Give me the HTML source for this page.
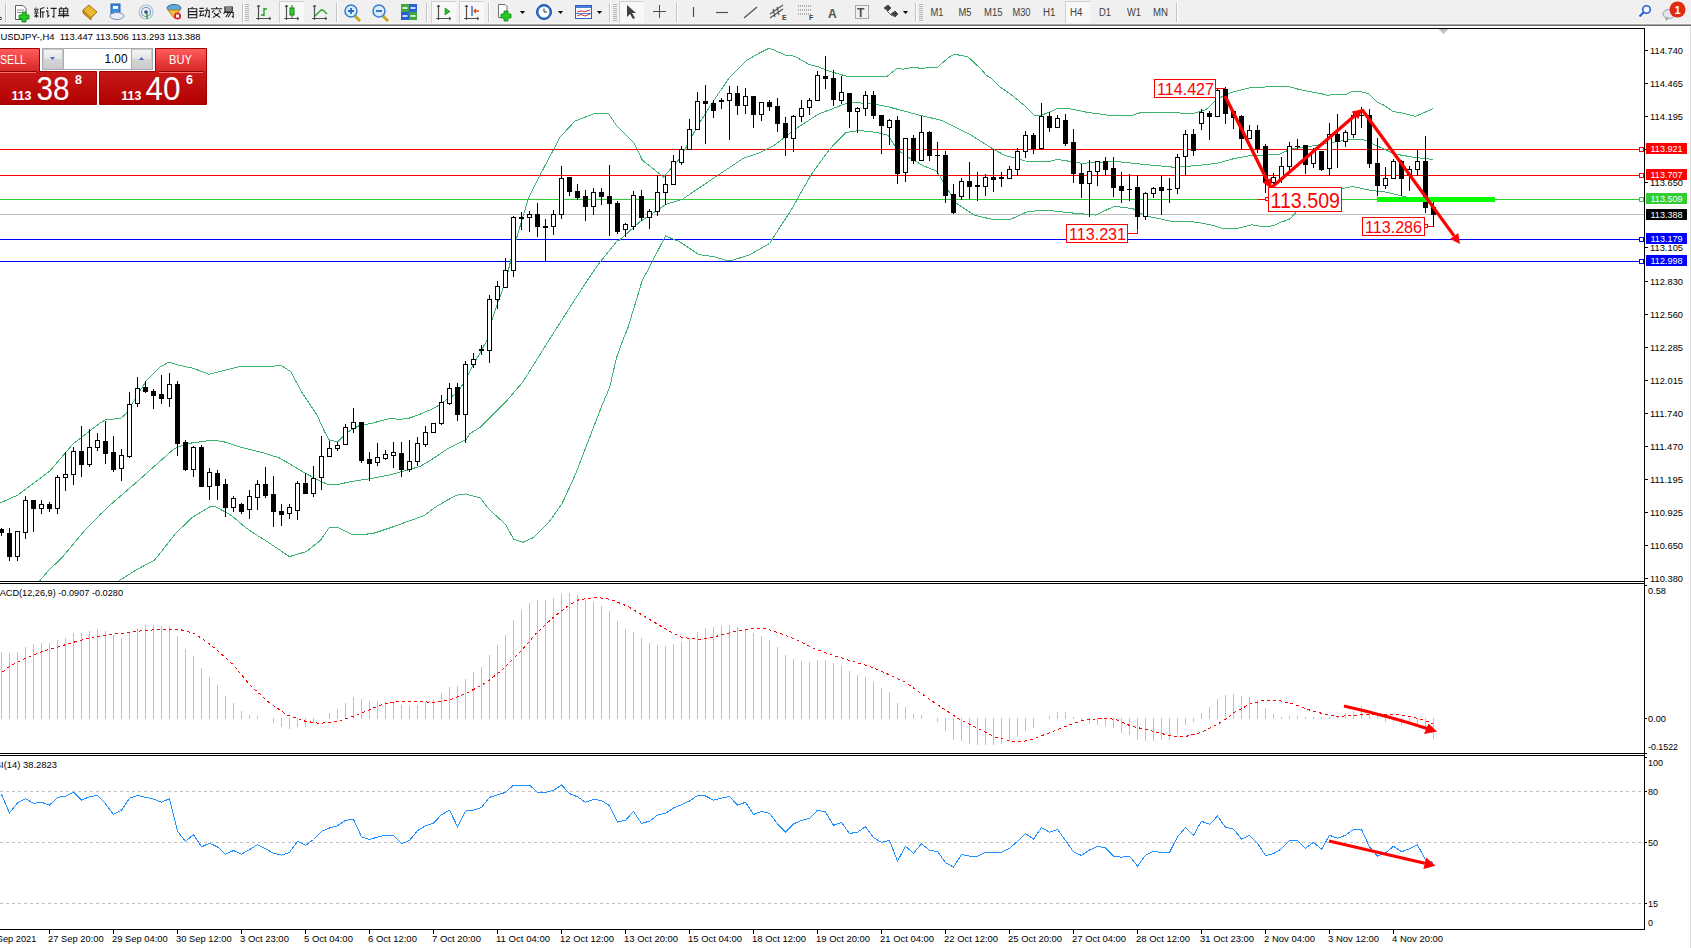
<!DOCTYPE html>
<html><head><meta charset="utf-8"><title>USDJPY H4</title>
<style>html,body{margin:0;padding:0;background:#fff;overflow:hidden;width:1691px;height:948px}svg{display:block}text{font-family:"Liberation Sans",sans-serif}</style>
</head><body>
<svg width="1691" height="948" viewBox="0 0 1691 948" shape-rendering="crispEdges" font-family="&quot;Liberation Sans&quot;, sans-serif">
<rect x="0" y="0" width="1691" height="948" fill="#ffffff"/>
<rect x="0" y="0" width="1691" height="24" fill="#f0f0f0"/>
<rect x="0" y="23" width="1691" height="1" fill="#f6f6f6"/>
<rect x="0" y="24" width="1691" height="1" fill="#a8a8a8"/>
<rect x="0" y="25" width="1691" height="1" fill="#6a6a6a"/>
<rect x="1690" y="26" width="1" height="922" fill="#dcdcdc"/>
<defs><clipPath id="cm"><rect x="0" y="29" width="1644" height="552"/></clipPath><clipPath id="cmacd"><rect x="0" y="584" width="1644" height="169"/></clipPath><clipPath id="crsi"><rect x="0" y="756" width="1644" height="173"/></clipPath><linearGradient id="gred" x1="0" y1="0" x2="0" y2="1"><stop offset="0" stop-color="#ff5c5c"/><stop offset="1" stop-color="#d82626"/></linearGradient><linearGradient id="gred2" x1="0" y1="0" x2="0" y2="1"><stop offset="0" stop-color="#dc2a2a"/><stop offset="1" stop-color="#b00000"/></linearGradient><linearGradient id="gbtn" x1="0" y1="0" x2="0" y2="1"><stop offset="0" stop-color="#f4f4f4"/><stop offset="0.5" stop-color="#e4e4e4"/><stop offset="0.51" stop-color="#d4d4d4"/><stop offset="1" stop-color="#cccccc"/></linearGradient></defs>
<g clip-path="url(#cm)">
<rect x="0" y="149" width="1644" height="1" fill="#ff0000"/>
<rect x="0" y="175" width="1644" height="1" fill="#ff0000"/>
<rect x="0" y="199" width="1644" height="1" fill="#32cd32"/>
<rect x="0" y="214" width="1644" height="1" fill="#c0c0c0"/>
<rect x="0" y="239" width="1644" height="1" fill="#0000ff"/>
<rect x="0" y="261" width="1644" height="1" fill="#0000ff"/>
<polyline points="0.0,503.0 17.9,495.0 50.0,470.8 73.0,444.0 100.0,423.0 105.4,420.0 120.7,418.2 126.0,413.8 145.8,381.5 160.0,367.2 169.0,362.0 176.0,364.5 192.0,368.0 208.9,374.2 218.4,371.8 239.3,366.6 269.6,366.6 281.0,365.3 290.5,371.4 301.9,392.3 317.1,415.1 324.7,432.1 329.4,440.1 336.8,441.6 338.0,441.6 344.4,434.9 352.0,429.2 359.6,425.4 371.0,423.5 390.0,418.4 399.5,419.4 408.9,418.2 418.4,415.0 435.5,407.4 445.0,400.8 458.3,392.2 487.1,340.0 492.0,319.5 505.9,280.0 515.1,242.9 528.5,198.1 541.2,172.8 560.2,137.0 574.9,121.1 593.9,113.8 608.7,113.8 617.1,126.4 634.0,143.3 642.4,160.2 663.5,177.0 680.4,158.0 697.3,126.4 712.0,103.2 729.1,77.9 746.5,60.4 760.0,52.8 769.3,48.1 785.5,55.1 794.8,56.3 808.8,64.4 818.0,66.7 829.7,71.3 845.9,76.0 866.8,76.0 887.7,76.0 897.0,68.3 900.0,68.4 902.6,69.3 907.2,68.4 911.8,67.4 917.7,67.4 919.0,68.4 924.9,68.4 925.5,67.4 937.6,67.4 941.9,63.3 947.7,58.4 951.7,55.5 953.6,54.5 957.6,54.5 958.9,55.3 963.4,55.3 964.7,56.3 968.0,56.8 981.1,69.2 986.3,75.4 991.6,78.4 1000.0,86.9 1011.4,94.8 1025.4,106.4 1034.7,115.7 1040.0,115.7 1049.3,112.2 1057.4,108.3 1070.2,108.8 1086.4,112.2 1112.0,115.7 1130.5,115.7 1139.8,112.9 1170.0,112.2 1191.8,113.9 1205.7,109.9 1217.3,99.0 1231.3,92.5 1249.8,87.9 1270.7,86.7 1289.3,86.7 1300.0,89.7 1308.6,91.3 1320.0,93.5 1324.4,94.4 1328.2,95.6 1332.7,94.4 1346.6,94.4 1352.3,91.3 1358.0,91.3 1364.3,92.5 1369.4,94.1 1377.0,102.0 1384.6,105.5 1392.8,111.5 1400.0,112.5 1415.4,116.4 1432.8,108.8" fill="none" stroke="#3cb371" stroke-width="1" />
<polyline points="39.7,580.7 49.0,570.0 62.0,557.7 85.0,530.0 100.0,514.7 110.0,505.0 133.0,485.4 153.0,467.5 171.0,451.4 176.0,447.8 188.0,443.5 210.8,440.3 222.2,441.3 241.2,447.3 263.9,453.0 279.1,457.8 290.5,464.4 305.7,473.5 319.0,480.6 328.5,484.7 338.0,484.4 352.0,481.4 371.0,478.6 390.0,474.8 408.9,469.7 420.3,466.3 431.7,459.6 446.9,449.2 458.3,443.5 465.9,439.7 470.0,433.6 480.5,427.0 506.9,400.6 522.7,382.2 549.1,340.0 575.5,298.6 587.6,280.0 598.7,263.8 617.3,240.6 619.2,240.3 640.3,221.4 665.7,204.5 682.5,199.2 712.0,179.2 743.7,158.0 760.0,152.6 773.9,145.6 794.8,129.4 818.0,114.3 848.2,102.7 869.1,103.2 885.4,106.2 900.0,109.9 918.6,115.0 941.8,120.4 969.7,134.3 992.9,148.9 1004.5,155.2 1025.4,161.0 1049.3,161.5 1057.4,159.4 1081.8,163.3 1116.6,161.5 1144.5,164.5 1174.7,167.3 1196.4,165.6 1217.3,163.3 1233.6,158.7 1249.8,155.7 1266.1,155.2 1280.0,154.0 1290.0,149.4 1299.3,147.8 1313.2,145.9 1332.0,142.5 1339.0,141.3 1351.6,139.4 1362.4,139.4 1367.5,141.3 1373.8,144.4 1382.7,148.5 1394.5,154.0 1415.4,157.5 1432.8,159.4" fill="none" stroke="#3cb371" stroke-width="1" />
<polyline points="119.2,580.7 136.2,569.9 154.7,560.0 176.0,533.0 192.0,517.7 195.6,515.3 210.8,506.2 216.5,507.1 231.7,515.7 245.0,527.1 254.5,533.7 263.9,539.4 289.5,556.6 306.6,551.5 320.7,540.1 329.3,527.3 337.8,527.3 352.0,534.4 371.8,533.9 391.7,527.3 424.1,515.6 435.5,507.1 446.9,500.4 456.4,495.3 465.9,493.8 470.0,495.5 475.4,496.3 480.5,498.1 488.5,508.7 505.6,524.5 513.5,539.0 522.7,542.4 533.3,537.7 549.1,521.9 562.2,503.4 575.4,474.4 588.6,440.2 601.8,405.9 609.7,387.4 616.3,358.5 622.9,340.0 628.0,327.6 642.4,280.0 647.9,270.1 665.5,235.9 680.0,242.0 699.2,254.7 712.5,256.4 729.0,261.1 749.0,255.2 769.5,243.5 779.6,227.7 790.2,211.8 811.1,174.7 829.7,149.1 845.9,132.4 859.8,130.5 876.1,132.4 887.7,135.2 897.0,149.1 905.0,155.5 923.2,165.6 937.1,171.4 955.7,202.8 974.3,215.1 992.9,219.5 1011.4,219.0 1026.5,212.1 1039.3,210.5 1049.3,210.5 1070.2,212.8 1095.7,215.1 1114.3,206.3 1132.9,208.6 1144.5,215.6 1170.0,221.0 1196.4,222.1 1212.7,225.3 1224.3,229.0 1238.2,228.3 1252.2,224.8 1262.2,226.5 1268.9,226.5 1274.8,225.0 1279.9,222.4 1285.8,220.6 1290.3,218.7 1292.5,216.2 1296.2,212.1 1342.0,188.5 1352.7,186.5 1371.3,190.5 1387.5,192.3 1406.1,197.0 1424.7,201.2 1432.8,203.9" fill="none" stroke="#3cb371" stroke-width="1" />
<rect x="1" y="528" width="1" height="8" fill="#000"/>
<rect x="-1" y="529" width="5" height="4" fill="#000"/>
<rect x="9" y="528" width="1" height="33" fill="#000"/>
<rect x="7" y="533" width="5" height="24" fill="#000"/>
<rect x="17" y="531" width="1" height="30" fill="#000"/>
<rect x="15" y="531" width="5" height="26" fill="#000"/>
<rect x="16" y="532" width="3" height="24" fill="#fff"/>
<rect x="25" y="496" width="1" height="43" fill="#000"/>
<rect x="23" y="500" width="5" height="33" fill="#000"/>
<rect x="24" y="501" width="3" height="31" fill="#fff"/>
<rect x="33" y="500" width="1" height="32" fill="#000"/>
<rect x="31" y="500" width="5" height="9" fill="#000"/>
<rect x="41" y="500" width="1" height="14" fill="#000"/>
<rect x="39" y="504" width="5" height="5" fill="#000"/>
<rect x="40" y="505" width="3" height="3" fill="#fff"/>
<rect x="49" y="502" width="1" height="10" fill="#000"/>
<rect x="47" y="504" width="5" height="5" fill="#000"/>
<rect x="57" y="475" width="1" height="39" fill="#000"/>
<rect x="55" y="477" width="5" height="32" fill="#000"/>
<rect x="56" y="478" width="3" height="30" fill="#fff"/>
<rect x="65" y="452" width="1" height="39" fill="#000"/>
<rect x="63" y="474" width="5" height="4" fill="#000"/>
<rect x="64" y="475" width="3" height="2" fill="#fff"/>
<rect x="73" y="447" width="1" height="38" fill="#000"/>
<rect x="71" y="451" width="5" height="24" fill="#000"/>
<rect x="72" y="452" width="3" height="22" fill="#fff"/>
<rect x="81" y="426" width="1" height="51" fill="#000"/>
<rect x="79" y="451" width="5" height="14" fill="#000"/>
<rect x="89" y="429" width="1" height="38" fill="#000"/>
<rect x="87" y="447" width="5" height="18" fill="#000"/>
<rect x="88" y="448" width="3" height="16" fill="#fff"/>
<rect x="97" y="433" width="1" height="18" fill="#000"/>
<rect x="95" y="440" width="5" height="8" fill="#000"/>
<rect x="96" y="441" width="3" height="6" fill="#fff"/>
<rect x="105" y="421" width="1" height="43" fill="#000"/>
<rect x="103" y="441" width="5" height="13" fill="#000"/>
<rect x="113" y="436" width="1" height="36" fill="#000"/>
<rect x="111" y="452" width="5" height="18" fill="#000"/>
<rect x="121" y="449" width="1" height="32" fill="#000"/>
<rect x="119" y="455" width="5" height="14" fill="#000"/>
<rect x="120" y="456" width="3" height="12" fill="#fff"/>
<rect x="129" y="392" width="1" height="66" fill="#000"/>
<rect x="127" y="404" width="5" height="53" fill="#000"/>
<rect x="128" y="405" width="3" height="51" fill="#fff"/>
<rect x="137" y="377" width="1" height="30" fill="#000"/>
<rect x="135" y="388" width="5" height="16" fill="#000"/>
<rect x="136" y="389" width="3" height="14" fill="#fff"/>
<rect x="145" y="381" width="1" height="12" fill="#000"/>
<rect x="143" y="387" width="5" height="5" fill="#000"/>
<rect x="153" y="389" width="1" height="20" fill="#000"/>
<rect x="151" y="391" width="5" height="5" fill="#000"/>
<rect x="161" y="375" width="1" height="29" fill="#000"/>
<rect x="159" y="394" width="5" height="5" fill="#000"/>
<rect x="169" y="373" width="1" height="34" fill="#000"/>
<rect x="167" y="384" width="5" height="15" fill="#000"/>
<rect x="168" y="385" width="3" height="13" fill="#fff"/>
<rect x="177" y="381" width="1" height="75" fill="#000"/>
<rect x="175" y="384" width="5" height="60" fill="#000"/>
<rect x="185" y="440" width="1" height="31" fill="#000"/>
<rect x="183" y="442" width="5" height="28" fill="#000"/>
<rect x="193" y="446" width="1" height="31" fill="#000"/>
<rect x="191" y="447" width="5" height="23" fill="#000"/>
<rect x="192" y="448" width="3" height="21" fill="#fff"/>
<rect x="201" y="445" width="1" height="42" fill="#000"/>
<rect x="199" y="447" width="5" height="40" fill="#000"/>
<rect x="209" y="468" width="1" height="32" fill="#000"/>
<rect x="207" y="472" width="5" height="15" fill="#000"/>
<rect x="208" y="473" width="3" height="13" fill="#fff"/>
<rect x="217" y="470" width="1" height="30" fill="#000"/>
<rect x="215" y="473" width="5" height="13" fill="#000"/>
<rect x="225" y="479" width="1" height="38" fill="#000"/>
<rect x="223" y="484" width="5" height="24" fill="#000"/>
<rect x="233" y="496" width="1" height="16" fill="#000"/>
<rect x="231" y="498" width="5" height="10" fill="#000"/>
<rect x="232" y="499" width="3" height="8" fill="#fff"/>
<rect x="241" y="503" width="1" height="11" fill="#000"/>
<rect x="239" y="504" width="5" height="8" fill="#000"/>
<rect x="249" y="490" width="1" height="29" fill="#000"/>
<rect x="247" y="496" width="5" height="14" fill="#000"/>
<rect x="248" y="497" width="3" height="12" fill="#fff"/>
<rect x="257" y="480" width="1" height="30" fill="#000"/>
<rect x="255" y="484" width="5" height="14" fill="#000"/>
<rect x="256" y="485" width="3" height="12" fill="#fff"/>
<rect x="265" y="467" width="1" height="31" fill="#000"/>
<rect x="263" y="484" width="5" height="12" fill="#000"/>
<rect x="273" y="476" width="1" height="51" fill="#000"/>
<rect x="271" y="494" width="5" height="18" fill="#000"/>
<rect x="281" y="504" width="1" height="22" fill="#000"/>
<rect x="279" y="511" width="5" height="4" fill="#000"/>
<rect x="289" y="504" width="1" height="15" fill="#000"/>
<rect x="287" y="507" width="5" height="7" fill="#000"/>
<rect x="288" y="508" width="3" height="5" fill="#fff"/>
<rect x="297" y="481" width="1" height="39" fill="#000"/>
<rect x="295" y="483" width="5" height="28" fill="#000"/>
<rect x="296" y="484" width="3" height="26" fill="#fff"/>
<rect x="305" y="473" width="1" height="21" fill="#000"/>
<rect x="303" y="483" width="5" height="11" fill="#000"/>
<rect x="313" y="466" width="1" height="31" fill="#000"/>
<rect x="311" y="478" width="5" height="16" fill="#000"/>
<rect x="312" y="479" width="3" height="14" fill="#fff"/>
<rect x="321" y="436" width="1" height="54" fill="#000"/>
<rect x="319" y="456" width="5" height="22" fill="#000"/>
<rect x="320" y="457" width="3" height="20" fill="#fff"/>
<rect x="329" y="441" width="1" height="16" fill="#000"/>
<rect x="327" y="448" width="5" height="9" fill="#000"/>
<rect x="328" y="449" width="3" height="7" fill="#fff"/>
<rect x="337" y="442" width="1" height="9" fill="#000"/>
<rect x="335" y="445" width="5" height="4" fill="#000"/>
<rect x="336" y="446" width="3" height="2" fill="#fff"/>
<rect x="345" y="424" width="1" height="21" fill="#000"/>
<rect x="343" y="427" width="5" height="18" fill="#000"/>
<rect x="344" y="428" width="3" height="16" fill="#fff"/>
<rect x="353" y="408" width="1" height="25" fill="#000"/>
<rect x="351" y="422" width="5" height="7" fill="#000"/>
<rect x="352" y="423" width="3" height="5" fill="#fff"/>
<rect x="361" y="422" width="1" height="41" fill="#000"/>
<rect x="359" y="422" width="5" height="39" fill="#000"/>
<rect x="369" y="452" width="1" height="29" fill="#000"/>
<rect x="367" y="459" width="5" height="5" fill="#000"/>
<rect x="377" y="443" width="1" height="23" fill="#000"/>
<rect x="375" y="457" width="5" height="6" fill="#000"/>
<rect x="376" y="458" width="3" height="4" fill="#fff"/>
<rect x="385" y="450" width="1" height="10" fill="#000"/>
<rect x="383" y="454" width="5" height="5" fill="#000"/>
<rect x="384" y="455" width="3" height="3" fill="#fff"/>
<rect x="393" y="442" width="1" height="26" fill="#000"/>
<rect x="391" y="452" width="5" height="4" fill="#000"/>
<rect x="392" y="453" width="3" height="2" fill="#fff"/>
<rect x="401" y="442" width="1" height="35" fill="#000"/>
<rect x="399" y="453" width="5" height="17" fill="#000"/>
<rect x="409" y="440" width="1" height="32" fill="#000"/>
<rect x="407" y="461" width="5" height="9" fill="#000"/>
<rect x="408" y="462" width="3" height="7" fill="#fff"/>
<rect x="417" y="437" width="1" height="29" fill="#000"/>
<rect x="415" y="443" width="5" height="19" fill="#000"/>
<rect x="416" y="444" width="3" height="17" fill="#fff"/>
<rect x="425" y="426" width="1" height="21" fill="#000"/>
<rect x="423" y="432" width="5" height="13" fill="#000"/>
<rect x="424" y="433" width="3" height="11" fill="#fff"/>
<rect x="433" y="423" width="1" height="10" fill="#000"/>
<rect x="431" y="423" width="5" height="10" fill="#000"/>
<rect x="432" y="424" width="3" height="8" fill="#fff"/>
<rect x="441" y="395" width="1" height="30" fill="#000"/>
<rect x="439" y="402" width="5" height="22" fill="#000"/>
<rect x="440" y="403" width="3" height="20" fill="#fff"/>
<rect x="449" y="383" width="1" height="22" fill="#000"/>
<rect x="447" y="388" width="5" height="16" fill="#000"/>
<rect x="448" y="389" width="3" height="14" fill="#fff"/>
<rect x="457" y="383" width="1" height="38" fill="#000"/>
<rect x="455" y="387" width="5" height="28" fill="#000"/>
<rect x="465" y="361" width="1" height="82" fill="#000"/>
<rect x="463" y="364" width="5" height="51" fill="#000"/>
<rect x="464" y="365" width="3" height="49" fill="#fff"/>
<rect x="473" y="353" width="1" height="15" fill="#000"/>
<rect x="471" y="359" width="5" height="6" fill="#000"/>
<rect x="472" y="360" width="3" height="4" fill="#fff"/>
<rect x="481" y="345" width="1" height="10" fill="#000"/>
<rect x="479" y="349" width="5" height="1" fill="#000"/>
<rect x="479" y="350" width="5" height="1" fill="#000"/>
<rect x="489" y="295" width="1" height="68" fill="#000"/>
<rect x="487" y="299" width="5" height="52" fill="#000"/>
<rect x="488" y="300" width="3" height="50" fill="#fff"/>
<rect x="497" y="281" width="1" height="28" fill="#000"/>
<rect x="495" y="286" width="5" height="14" fill="#000"/>
<rect x="496" y="287" width="3" height="12" fill="#fff"/>
<rect x="505" y="258" width="1" height="30" fill="#000"/>
<rect x="503" y="270" width="5" height="18" fill="#000"/>
<rect x="504" y="271" width="3" height="16" fill="#fff"/>
<rect x="513" y="216" width="1" height="61" fill="#000"/>
<rect x="511" y="217" width="5" height="54" fill="#000"/>
<rect x="512" y="218" width="3" height="52" fill="#fff"/>
<rect x="521" y="212" width="1" height="18" fill="#000"/>
<rect x="519" y="217" width="5" height="1" fill="#000"/>
<rect x="519" y="218" width="5" height="1" fill="#000"/>
<rect x="529" y="211" width="1" height="21" fill="#000"/>
<rect x="527" y="214" width="5" height="4" fill="#000"/>
<rect x="528" y="215" width="3" height="2" fill="#fff"/>
<rect x="537" y="203" width="1" height="34" fill="#000"/>
<rect x="535" y="214" width="5" height="13" fill="#000"/>
<rect x="545" y="219" width="1" height="43" fill="#000"/>
<rect x="543" y="226" width="5" height="1" fill="#000"/>
<rect x="543" y="227" width="5" height="1" fill="#000"/>
<rect x="553" y="210" width="1" height="25" fill="#000"/>
<rect x="551" y="214" width="5" height="13" fill="#000"/>
<rect x="552" y="215" width="3" height="11" fill="#fff"/>
<rect x="561" y="166" width="1" height="53" fill="#000"/>
<rect x="559" y="178" width="5" height="37" fill="#000"/>
<rect x="560" y="179" width="3" height="35" fill="#fff"/>
<rect x="569" y="177" width="1" height="19" fill="#000"/>
<rect x="567" y="177" width="5" height="15" fill="#000"/>
<rect x="577" y="184" width="1" height="16" fill="#000"/>
<rect x="575" y="191" width="5" height="7" fill="#000"/>
<rect x="585" y="190" width="1" height="31" fill="#000"/>
<rect x="583" y="196" width="5" height="11" fill="#000"/>
<rect x="593" y="188" width="1" height="27" fill="#000"/>
<rect x="591" y="192" width="5" height="15" fill="#000"/>
<rect x="592" y="193" width="3" height="13" fill="#fff"/>
<rect x="601" y="188" width="1" height="17" fill="#000"/>
<rect x="599" y="192" width="5" height="5" fill="#000"/>
<rect x="609" y="165" width="1" height="71" fill="#000"/>
<rect x="607" y="196" width="5" height="8" fill="#000"/>
<rect x="617" y="201" width="1" height="33" fill="#000"/>
<rect x="615" y="203" width="5" height="29" fill="#000"/>
<rect x="625" y="223" width="1" height="14" fill="#000"/>
<rect x="623" y="224" width="5" height="6" fill="#000"/>
<rect x="624" y="225" width="3" height="4" fill="#fff"/>
<rect x="633" y="191" width="1" height="39" fill="#000"/>
<rect x="631" y="195" width="5" height="32" fill="#000"/>
<rect x="632" y="196" width="3" height="30" fill="#fff"/>
<rect x="641" y="190" width="1" height="31" fill="#000"/>
<rect x="639" y="196" width="5" height="22" fill="#000"/>
<rect x="649" y="209" width="1" height="20" fill="#000"/>
<rect x="647" y="211" width="5" height="7" fill="#000"/>
<rect x="648" y="212" width="3" height="5" fill="#fff"/>
<rect x="657" y="175" width="1" height="41" fill="#000"/>
<rect x="655" y="192" width="5" height="20" fill="#000"/>
<rect x="656" y="193" width="3" height="18" fill="#fff"/>
<rect x="665" y="176" width="1" height="29" fill="#000"/>
<rect x="663" y="184" width="5" height="9" fill="#000"/>
<rect x="664" y="185" width="3" height="7" fill="#fff"/>
<rect x="673" y="155" width="1" height="30" fill="#000"/>
<rect x="671" y="161" width="5" height="24" fill="#000"/>
<rect x="672" y="162" width="3" height="22" fill="#fff"/>
<rect x="681" y="146" width="1" height="19" fill="#000"/>
<rect x="679" y="149" width="5" height="14" fill="#000"/>
<rect x="680" y="150" width="3" height="12" fill="#fff"/>
<rect x="689" y="119" width="1" height="31" fill="#000"/>
<rect x="687" y="129" width="5" height="21" fill="#000"/>
<rect x="688" y="130" width="3" height="19" fill="#fff"/>
<rect x="697" y="92" width="1" height="38" fill="#000"/>
<rect x="695" y="101" width="5" height="29" fill="#000"/>
<rect x="696" y="102" width="3" height="27" fill="#fff"/>
<rect x="705" y="85" width="1" height="59" fill="#000"/>
<rect x="703" y="101" width="5" height="3" fill="#000"/>
<rect x="713" y="100" width="1" height="18" fill="#000"/>
<rect x="711" y="103" width="5" height="8" fill="#000"/>
<rect x="721" y="98" width="1" height="11" fill="#000"/>
<rect x="719" y="100" width="5" height="1" fill="#000"/>
<rect x="719" y="101" width="5" height="1" fill="#000"/>
<rect x="729" y="86" width="1" height="54" fill="#000"/>
<rect x="727" y="93" width="5" height="8" fill="#000"/>
<rect x="728" y="94" width="3" height="6" fill="#fff"/>
<rect x="737" y="86" width="1" height="29" fill="#000"/>
<rect x="735" y="93" width="5" height="13" fill="#000"/>
<rect x="745" y="88" width="1" height="26" fill="#000"/>
<rect x="743" y="96" width="5" height="10" fill="#000"/>
<rect x="744" y="97" width="3" height="8" fill="#fff"/>
<rect x="753" y="96" width="1" height="32" fill="#000"/>
<rect x="751" y="96" width="5" height="19" fill="#000"/>
<rect x="761" y="102" width="1" height="19" fill="#000"/>
<rect x="759" y="102" width="5" height="13" fill="#000"/>
<rect x="760" y="103" width="3" height="11" fill="#fff"/>
<rect x="769" y="100" width="1" height="11" fill="#000"/>
<rect x="767" y="102" width="5" height="5" fill="#000"/>
<rect x="777" y="98" width="1" height="34" fill="#000"/>
<rect x="775" y="106" width="5" height="18" fill="#000"/>
<rect x="785" y="117" width="1" height="39" fill="#000"/>
<rect x="783" y="123" width="5" height="15" fill="#000"/>
<rect x="793" y="115" width="1" height="37" fill="#000"/>
<rect x="791" y="116" width="5" height="23" fill="#000"/>
<rect x="792" y="117" width="3" height="21" fill="#fff"/>
<rect x="801" y="100" width="1" height="22" fill="#000"/>
<rect x="799" y="108" width="5" height="9" fill="#000"/>
<rect x="800" y="109" width="3" height="7" fill="#fff"/>
<rect x="809" y="98" width="1" height="17" fill="#000"/>
<rect x="807" y="100" width="5" height="8" fill="#000"/>
<rect x="808" y="101" width="3" height="6" fill="#fff"/>
<rect x="817" y="71" width="1" height="30" fill="#000"/>
<rect x="815" y="75" width="5" height="26" fill="#000"/>
<rect x="816" y="76" width="3" height="24" fill="#fff"/>
<rect x="825" y="56" width="1" height="33" fill="#000"/>
<rect x="823" y="76" width="5" height="3" fill="#000"/>
<rect x="833" y="70" width="1" height="36" fill="#000"/>
<rect x="831" y="78" width="5" height="22" fill="#000"/>
<rect x="841" y="76" width="1" height="28" fill="#000"/>
<rect x="839" y="92" width="5" height="9" fill="#000"/>
<rect x="840" y="93" width="3" height="7" fill="#fff"/>
<rect x="849" y="93" width="1" height="35" fill="#000"/>
<rect x="847" y="93" width="5" height="19" fill="#000"/>
<rect x="857" y="107" width="1" height="26" fill="#000"/>
<rect x="855" y="108" width="5" height="4" fill="#000"/>
<rect x="856" y="109" width="3" height="2" fill="#fff"/>
<rect x="865" y="91" width="1" height="25" fill="#000"/>
<rect x="863" y="95" width="5" height="14" fill="#000"/>
<rect x="864" y="96" width="3" height="12" fill="#fff"/>
<rect x="873" y="91" width="1" height="28" fill="#000"/>
<rect x="871" y="95" width="5" height="21" fill="#000"/>
<rect x="881" y="115" width="1" height="39" fill="#000"/>
<rect x="879" y="115" width="5" height="11" fill="#000"/>
<rect x="889" y="119" width="1" height="26" fill="#000"/>
<rect x="887" y="120" width="5" height="8" fill="#000"/>
<rect x="888" y="121" width="3" height="6" fill="#fff"/>
<rect x="897" y="116" width="1" height="68" fill="#000"/>
<rect x="895" y="120" width="5" height="54" fill="#000"/>
<rect x="905" y="138" width="1" height="44" fill="#000"/>
<rect x="903" y="138" width="5" height="35" fill="#000"/>
<rect x="904" y="139" width="3" height="33" fill="#fff"/>
<rect x="913" y="135" width="1" height="29" fill="#000"/>
<rect x="911" y="138" width="5" height="23" fill="#000"/>
<rect x="921" y="116" width="1" height="45" fill="#000"/>
<rect x="919" y="132" width="5" height="29" fill="#000"/>
<rect x="920" y="133" width="3" height="27" fill="#fff"/>
<rect x="929" y="131" width="1" height="30" fill="#000"/>
<rect x="927" y="132" width="5" height="24" fill="#000"/>
<rect x="937" y="142" width="1" height="32" fill="#000"/>
<rect x="935" y="155" width="5" height="1" fill="#000"/>
<rect x="945" y="151" width="1" height="52" fill="#000"/>
<rect x="943" y="155" width="5" height="41" fill="#000"/>
<rect x="953" y="184" width="1" height="30" fill="#000"/>
<rect x="951" y="194" width="5" height="19" fill="#000"/>
<rect x="961" y="178" width="1" height="22" fill="#000"/>
<rect x="959" y="181" width="5" height="16" fill="#000"/>
<rect x="960" y="182" width="3" height="14" fill="#fff"/>
<rect x="969" y="162" width="1" height="37" fill="#000"/>
<rect x="967" y="181" width="5" height="6" fill="#000"/>
<rect x="977" y="172" width="1" height="29" fill="#000"/>
<rect x="975" y="185" width="5" height="1" fill="#000"/>
<rect x="975" y="186" width="5" height="1" fill="#000"/>
<rect x="985" y="174" width="1" height="22" fill="#000"/>
<rect x="983" y="177" width="5" height="10" fill="#000"/>
<rect x="984" y="178" width="3" height="8" fill="#fff"/>
<rect x="993" y="149" width="1" height="43" fill="#000"/>
<rect x="991" y="177" width="5" height="3" fill="#000"/>
<rect x="1001" y="172" width="1" height="15" fill="#000"/>
<rect x="999" y="177" width="5" height="1" fill="#000"/>
<rect x="999" y="178" width="5" height="1" fill="#000"/>
<rect x="1009" y="166" width="1" height="13" fill="#000"/>
<rect x="1007" y="169" width="5" height="10" fill="#000"/>
<rect x="1008" y="170" width="3" height="8" fill="#fff"/>
<rect x="1017" y="148" width="1" height="28" fill="#000"/>
<rect x="1015" y="151" width="5" height="19" fill="#000"/>
<rect x="1016" y="152" width="3" height="17" fill="#fff"/>
<rect x="1025" y="131" width="1" height="27" fill="#000"/>
<rect x="1023" y="135" width="5" height="17" fill="#000"/>
<rect x="1024" y="136" width="3" height="15" fill="#fff"/>
<rect x="1033" y="133" width="1" height="21" fill="#000"/>
<rect x="1031" y="135" width="5" height="14" fill="#000"/>
<rect x="1041" y="103" width="1" height="47" fill="#000"/>
<rect x="1039" y="116" width="5" height="33" fill="#000"/>
<rect x="1040" y="117" width="3" height="31" fill="#fff"/>
<rect x="1049" y="112" width="1" height="20" fill="#000"/>
<rect x="1047" y="116" width="5" height="12" fill="#000"/>
<rect x="1057" y="115" width="1" height="13" fill="#000"/>
<rect x="1055" y="118" width="5" height="10" fill="#000"/>
<rect x="1056" y="119" width="3" height="8" fill="#fff"/>
<rect x="1065" y="114" width="1" height="32" fill="#000"/>
<rect x="1063" y="120" width="5" height="24" fill="#000"/>
<rect x="1073" y="129" width="1" height="54" fill="#000"/>
<rect x="1071" y="142" width="5" height="32" fill="#000"/>
<rect x="1081" y="164" width="1" height="34" fill="#000"/>
<rect x="1079" y="173" width="5" height="11" fill="#000"/>
<rect x="1089" y="160" width="1" height="57" fill="#000"/>
<rect x="1087" y="171" width="5" height="13" fill="#000"/>
<rect x="1088" y="172" width="3" height="11" fill="#fff"/>
<rect x="1097" y="161" width="1" height="25" fill="#000"/>
<rect x="1095" y="161" width="5" height="11" fill="#000"/>
<rect x="1096" y="162" width="3" height="9" fill="#fff"/>
<rect x="1105" y="157" width="1" height="18" fill="#000"/>
<rect x="1103" y="161" width="5" height="9" fill="#000"/>
<rect x="1113" y="157" width="1" height="40" fill="#000"/>
<rect x="1111" y="168" width="5" height="20" fill="#000"/>
<rect x="1121" y="172" width="1" height="31" fill="#000"/>
<rect x="1119" y="186" width="5" height="5" fill="#000"/>
<rect x="1129" y="174" width="1" height="27" fill="#000"/>
<rect x="1127" y="189" width="5" height="1" fill="#000"/>
<rect x="1137" y="175" width="1" height="58" fill="#000"/>
<rect x="1135" y="187" width="5" height="30" fill="#000"/>
<rect x="1145" y="192" width="1" height="28" fill="#000"/>
<rect x="1143" y="193" width="5" height="24" fill="#000"/>
<rect x="1144" y="194" width="3" height="22" fill="#fff"/>
<rect x="1153" y="187" width="1" height="11" fill="#000"/>
<rect x="1151" y="188" width="5" height="6" fill="#000"/>
<rect x="1152" y="189" width="3" height="4" fill="#fff"/>
<rect x="1161" y="176" width="1" height="39" fill="#000"/>
<rect x="1159" y="187" width="5" height="4" fill="#000"/>
<rect x="1169" y="178" width="1" height="25" fill="#000"/>
<rect x="1167" y="189" width="5" height="1" fill="#000"/>
<rect x="1177" y="154" width="1" height="40" fill="#000"/>
<rect x="1175" y="157" width="5" height="32" fill="#000"/>
<rect x="1176" y="158" width="3" height="30" fill="#fff"/>
<rect x="1185" y="130" width="1" height="46" fill="#000"/>
<rect x="1183" y="134" width="5" height="23" fill="#000"/>
<rect x="1184" y="135" width="3" height="21" fill="#fff"/>
<rect x="1193" y="129" width="1" height="27" fill="#000"/>
<rect x="1191" y="134" width="5" height="17" fill="#000"/>
<rect x="1201" y="109" width="1" height="21" fill="#000"/>
<rect x="1199" y="112" width="5" height="12" fill="#000"/>
<rect x="1200" y="113" width="3" height="10" fill="#fff"/>
<rect x="1209" y="111" width="1" height="29" fill="#000"/>
<rect x="1207" y="113" width="5" height="4" fill="#000"/>
<rect x="1217" y="88" width="1" height="29" fill="#000"/>
<rect x="1215" y="90" width="5" height="27" fill="#000"/>
<rect x="1216" y="91" width="3" height="25" fill="#fff"/>
<rect x="1225" y="87" width="1" height="37" fill="#000"/>
<rect x="1223" y="89" width="5" height="25" fill="#000"/>
<rect x="1233" y="110" width="1" height="19" fill="#000"/>
<rect x="1231" y="111" width="5" height="7" fill="#000"/>
<rect x="1241" y="115" width="1" height="35" fill="#000"/>
<rect x="1239" y="116" width="5" height="23" fill="#000"/>
<rect x="1249" y="125" width="1" height="14" fill="#000"/>
<rect x="1247" y="130" width="5" height="9" fill="#000"/>
<rect x="1248" y="131" width="3" height="7" fill="#fff"/>
<rect x="1257" y="125" width="1" height="28" fill="#000"/>
<rect x="1255" y="130" width="5" height="19" fill="#000"/>
<rect x="1265" y="144" width="1" height="49" fill="#000"/>
<rect x="1263" y="146" width="5" height="37" fill="#000"/>
<rect x="1273" y="173" width="1" height="12" fill="#000"/>
<rect x="1271" y="177" width="5" height="6" fill="#000"/>
<rect x="1272" y="178" width="3" height="4" fill="#fff"/>
<rect x="1281" y="157" width="1" height="26" fill="#000"/>
<rect x="1279" y="166" width="5" height="13" fill="#000"/>
<rect x="1280" y="167" width="3" height="11" fill="#fff"/>
<rect x="1289" y="142" width="1" height="28" fill="#000"/>
<rect x="1287" y="146" width="5" height="21" fill="#000"/>
<rect x="1288" y="147" width="3" height="19" fill="#fff"/>
<rect x="1297" y="139" width="1" height="11" fill="#000"/>
<rect x="1295" y="146" width="5" height="1" fill="#000"/>
<rect x="1305" y="145" width="1" height="29" fill="#000"/>
<rect x="1303" y="145" width="5" height="20" fill="#000"/>
<rect x="1313" y="148" width="1" height="20" fill="#000"/>
<rect x="1311" y="151" width="5" height="13" fill="#000"/>
<rect x="1312" y="152" width="3" height="11" fill="#fff"/>
<rect x="1321" y="151" width="1" height="20" fill="#000"/>
<rect x="1319" y="151" width="5" height="19" fill="#000"/>
<rect x="1329" y="123" width="1" height="53" fill="#000"/>
<rect x="1327" y="134" width="5" height="35" fill="#000"/>
<rect x="1328" y="135" width="3" height="33" fill="#fff"/>
<rect x="1337" y="114" width="1" height="54" fill="#000"/>
<rect x="1335" y="134" width="5" height="8" fill="#000"/>
<rect x="1345" y="130" width="1" height="17" fill="#000"/>
<rect x="1343" y="132" width="5" height="10" fill="#000"/>
<rect x="1344" y="133" width="3" height="8" fill="#fff"/>
<rect x="1353" y="111" width="1" height="27" fill="#000"/>
<rect x="1351" y="115" width="5" height="20" fill="#000"/>
<rect x="1352" y="116" width="3" height="18" fill="#fff"/>
<rect x="1361" y="107" width="1" height="21" fill="#000"/>
<rect x="1359" y="115" width="5" height="1" fill="#000"/>
<rect x="1369" y="109" width="1" height="59" fill="#000"/>
<rect x="1367" y="115" width="5" height="49" fill="#000"/>
<rect x="1377" y="138" width="1" height="58" fill="#000"/>
<rect x="1375" y="163" width="5" height="23" fill="#000"/>
<rect x="1385" y="167" width="1" height="22" fill="#000"/>
<rect x="1383" y="178" width="5" height="8" fill="#000"/>
<rect x="1384" y="179" width="3" height="6" fill="#fff"/>
<rect x="1393" y="159" width="1" height="20" fill="#000"/>
<rect x="1391" y="161" width="5" height="18" fill="#000"/>
<rect x="1392" y="162" width="3" height="16" fill="#fff"/>
<rect x="1401" y="160" width="1" height="36" fill="#000"/>
<rect x="1399" y="161" width="5" height="18" fill="#000"/>
<rect x="1409" y="166" width="1" height="25" fill="#000"/>
<rect x="1407" y="169" width="5" height="7" fill="#000"/>
<rect x="1408" y="170" width="3" height="5" fill="#fff"/>
<rect x="1417" y="150" width="1" height="26" fill="#000"/>
<rect x="1415" y="161" width="5" height="9" fill="#000"/>
<rect x="1416" y="162" width="3" height="7" fill="#fff"/>
<rect x="1425" y="136" width="1" height="77" fill="#000"/>
<rect x="1423" y="161" width="5" height="47" fill="#000"/>
<rect x="1433" y="200" width="1" height="27" fill="#000"/>
<rect x="1431" y="207" width="5" height="8" fill="#000"/>
<rect x="1377" y="197" width="118" height="5" fill="#00ff00"/>
<line x1="1225" y1="96" x2="1267.0" y2="180.1" stroke="#ff0000" stroke-width="3.3" shape-rendering="auto"/>
<polygon points="1271.5,189 1262.6,182.3 1271.5,177.8" fill="#ff0000" shape-rendering="auto"/>
<line x1="1271" y1="188" x2="1354.9" y2="115.5" stroke="#ff0000" stroke-width="3.3" shape-rendering="auto"/>
<polygon points="1362.5,109 1358.2,119.3 1351.7,111.8" fill="#ff0000" shape-rendering="auto"/>
<line x1="1362" y1="109.5" x2="1454.1" y2="235.9" stroke="#ff0000" stroke-width="3.3" shape-rendering="auto"/>
<polygon points="1460,244 1450.1,238.9 1458.2,233.0" fill="#ff0000" shape-rendering="auto"/>
<rect x="1154.5" y="79.5" width="61" height="18" fill="#ffffff" stroke="#ff0000" stroke-width="1"/>
<text x="1157" y="95" font-size="17" fill="#ff0000" text-anchor="start" font-weight="normal" textLength="57" lengthAdjust="spacingAndGlyphs" >114.427</text>
<rect x="1215" y="88" width="11" height="1" fill="#ff0000"/>
<rect x="1066.5" y="224.5" width="61" height="18" fill="#ffffff" stroke="#ff0000" stroke-width="1"/>
<text x="1069" y="240" font-size="17" fill="#ff0000" text-anchor="start" font-weight="normal" textLength="57" lengthAdjust="spacingAndGlyphs" >113.231</text>
<rect x="1127" y="233" width="11" height="1" fill="#ff0000"/>
<rect x="1137" y="229" width="1" height="5" fill="#ff0000"/>
<rect x="1268.5" y="187.5" width="73" height="24" fill="#ffffff" stroke="#ff0000" stroke-width="1"/>
<text x="1270.5" y="208" font-size="22" fill="#ff0000" text-anchor="start" font-weight="normal" textLength="69.5" lengthAdjust="spacingAndGlyphs" >113.509</text>
<rect x="1258" y="199" width="8" height="1" fill="#ff0000"/>
<rect x="1265.5" y="197.5" width="3" height="3" fill="#fff" stroke="#ff0000"/>
<rect x="1362.5" y="217.5" width="62" height="18" fill="#ffffff" stroke="#ff0000" stroke-width="1"/>
<text x="1365" y="233" font-size="17" fill="#ff0000" text-anchor="start" font-weight="normal" textLength="57" lengthAdjust="spacingAndGlyphs" >113.286</text>
<rect x="1424.5" y="224.5" width="3" height="3" fill="#fff" stroke="#ff0000"/>
<rect x="1428" y="226" width="6" height="1" fill="#ff0000"/>
<rect x="1433" y="215" width="1" height="12" fill="#000"/>
</g>
<polygon points="1438,29 1448,29 1443,34" fill="#c0c0c0"/>
<g clip-path="url(#cmacd)">
<rect x="1" y="652" width="1" height="67" fill="#c0c0c0"/>
<rect x="9" y="653" width="1" height="66" fill="#c0c0c0"/>
<rect x="17" y="652" width="1" height="67" fill="#c0c0c0"/>
<rect x="25" y="647" width="1" height="72" fill="#c0c0c0"/>
<rect x="33" y="644" width="1" height="75" fill="#c0c0c0"/>
<rect x="41" y="643" width="1" height="76" fill="#c0c0c0"/>
<rect x="49" y="643" width="1" height="76" fill="#c0c0c0"/>
<rect x="57" y="640" width="1" height="79" fill="#c0c0c0"/>
<rect x="65" y="638" width="1" height="81" fill="#c0c0c0"/>
<rect x="73" y="633" width="1" height="86" fill="#c0c0c0"/>
<rect x="81" y="633" width="1" height="86" fill="#c0c0c0"/>
<rect x="89" y="631" width="1" height="88" fill="#c0c0c0"/>
<rect x="97" y="629" width="1" height="90" fill="#c0c0c0"/>
<rect x="105" y="631" width="1" height="88" fill="#c0c0c0"/>
<rect x="113" y="635" width="1" height="84" fill="#c0c0c0"/>
<rect x="121" y="638" width="1" height="81" fill="#c0c0c0"/>
<rect x="129" y="633" width="1" height="86" fill="#c0c0c0"/>
<rect x="137" y="628" width="1" height="91" fill="#c0c0c0"/>
<rect x="145" y="625" width="1" height="94" fill="#c0c0c0"/>
<rect x="153" y="625" width="1" height="94" fill="#c0c0c0"/>
<rect x="161" y="626" width="1" height="93" fill="#c0c0c0"/>
<rect x="169" y="626" width="1" height="93" fill="#c0c0c0"/>
<rect x="177" y="636" width="1" height="83" fill="#c0c0c0"/>
<rect x="185" y="649" width="1" height="70" fill="#c0c0c0"/>
<rect x="193" y="656" width="1" height="63" fill="#c0c0c0"/>
<rect x="201" y="668" width="1" height="51" fill="#c0c0c0"/>
<rect x="209" y="677" width="1" height="42" fill="#c0c0c0"/>
<rect x="217" y="685" width="1" height="34" fill="#c0c0c0"/>
<rect x="225" y="696" width="1" height="23" fill="#c0c0c0"/>
<rect x="233" y="703" width="1" height="16" fill="#c0c0c0"/>
<rect x="241" y="711" width="1" height="8" fill="#c0c0c0"/>
<rect x="249" y="715" width="1" height="4" fill="#c0c0c0"/>
<rect x="257" y="716" width="1" height="3" fill="#c0c0c0"/>
<rect x="273" y="718" width="1" height="5" fill="#c0c0c0"/>
<rect x="281" y="718" width="1" height="9" fill="#c0c0c0"/>
<rect x="289" y="718" width="1" height="11" fill="#c0c0c0"/>
<rect x="297" y="718" width="1" height="9" fill="#c0c0c0"/>
<rect x="305" y="718" width="1" height="9" fill="#c0c0c0"/>
<rect x="313" y="718" width="1" height="5" fill="#c0c0c0"/>
<rect x="329" y="713" width="1" height="6" fill="#c0c0c0"/>
<rect x="337" y="709" width="1" height="10" fill="#c0c0c0"/>
<rect x="345" y="703" width="1" height="16" fill="#c0c0c0"/>
<rect x="353" y="697" width="1" height="22" fill="#c0c0c0"/>
<rect x="361" y="699" width="1" height="20" fill="#c0c0c0"/>
<rect x="369" y="701" width="1" height="18" fill="#c0c0c0"/>
<rect x="377" y="701" width="1" height="18" fill="#c0c0c0"/>
<rect x="385" y="702" width="1" height="17" fill="#c0c0c0"/>
<rect x="393" y="702" width="1" height="17" fill="#c0c0c0"/>
<rect x="401" y="705" width="1" height="14" fill="#c0c0c0"/>
<rect x="409" y="706" width="1" height="13" fill="#c0c0c0"/>
<rect x="417" y="705" width="1" height="14" fill="#c0c0c0"/>
<rect x="425" y="702" width="1" height="17" fill="#c0c0c0"/>
<rect x="433" y="699" width="1" height="20" fill="#c0c0c0"/>
<rect x="441" y="693" width="1" height="26" fill="#c0c0c0"/>
<rect x="449" y="687" width="1" height="32" fill="#c0c0c0"/>
<rect x="457" y="686" width="1" height="33" fill="#c0c0c0"/>
<rect x="465" y="679" width="1" height="40" fill="#c0c0c0"/>
<rect x="473" y="672" width="1" height="47" fill="#c0c0c0"/>
<rect x="481" y="667" width="1" height="52" fill="#c0c0c0"/>
<rect x="489" y="655" width="1" height="64" fill="#c0c0c0"/>
<rect x="497" y="645" width="1" height="74" fill="#c0c0c0"/>
<rect x="505" y="635" width="1" height="84" fill="#c0c0c0"/>
<rect x="513" y="620" width="1" height="99" fill="#c0c0c0"/>
<rect x="521" y="610" width="1" height="109" fill="#c0c0c0"/>
<rect x="529" y="603" width="1" height="116" fill="#c0c0c0"/>
<rect x="537" y="600" width="1" height="119" fill="#c0c0c0"/>
<rect x="545" y="600" width="1" height="119" fill="#c0c0c0"/>
<rect x="553" y="598" width="1" height="121" fill="#c0c0c0"/>
<rect x="561" y="594" width="1" height="125" fill="#c0c0c0"/>
<rect x="569" y="593" width="1" height="126" fill="#c0c0c0"/>
<rect x="577" y="595" width="1" height="124" fill="#c0c0c0"/>
<rect x="585" y="599" width="1" height="120" fill="#c0c0c0"/>
<rect x="593" y="602" width="1" height="117" fill="#c0c0c0"/>
<rect x="601" y="606" width="1" height="113" fill="#c0c0c0"/>
<rect x="609" y="611" width="1" height="108" fill="#c0c0c0"/>
<rect x="617" y="621" width="1" height="98" fill="#c0c0c0"/>
<rect x="625" y="629" width="1" height="90" fill="#c0c0c0"/>
<rect x="633" y="632" width="1" height="87" fill="#c0c0c0"/>
<rect x="641" y="638" width="1" height="81" fill="#c0c0c0"/>
<rect x="649" y="643" width="1" height="76" fill="#c0c0c0"/>
<rect x="657" y="645" width="1" height="74" fill="#c0c0c0"/>
<rect x="665" y="646" width="1" height="73" fill="#c0c0c0"/>
<rect x="673" y="644" width="1" height="75" fill="#c0c0c0"/>
<rect x="681" y="642" width="1" height="77" fill="#c0c0c0"/>
<rect x="689" y="638" width="1" height="81" fill="#c0c0c0"/>
<rect x="697" y="632" width="1" height="87" fill="#c0c0c0"/>
<rect x="705" y="628" width="1" height="91" fill="#c0c0c0"/>
<rect x="713" y="627" width="1" height="92" fill="#c0c0c0"/>
<rect x="721" y="626" width="1" height="93" fill="#c0c0c0"/>
<rect x="729" y="625" width="1" height="94" fill="#c0c0c0"/>
<rect x="737" y="627" width="1" height="92" fill="#c0c0c0"/>
<rect x="745" y="629" width="1" height="90" fill="#c0c0c0"/>
<rect x="753" y="633" width="1" height="86" fill="#c0c0c0"/>
<rect x="761" y="636" width="1" height="83" fill="#c0c0c0"/>
<rect x="769" y="640" width="1" height="79" fill="#c0c0c0"/>
<rect x="777" y="647" width="1" height="72" fill="#c0c0c0"/>
<rect x="785" y="655" width="1" height="64" fill="#c0c0c0"/>
<rect x="793" y="659" width="1" height="60" fill="#c0c0c0"/>
<rect x="801" y="661" width="1" height="58" fill="#c0c0c0"/>
<rect x="809" y="662" width="1" height="57" fill="#c0c0c0"/>
<rect x="817" y="660" width="1" height="59" fill="#c0c0c0"/>
<rect x="825" y="660" width="1" height="59" fill="#c0c0c0"/>
<rect x="833" y="663" width="1" height="56" fill="#c0c0c0"/>
<rect x="841" y="666" width="1" height="53" fill="#c0c0c0"/>
<rect x="849" y="671" width="1" height="48" fill="#c0c0c0"/>
<rect x="857" y="675" width="1" height="44" fill="#c0c0c0"/>
<rect x="865" y="677" width="1" height="42" fill="#c0c0c0"/>
<rect x="873" y="682" width="1" height="37" fill="#c0c0c0"/>
<rect x="881" y="688" width="1" height="31" fill="#c0c0c0"/>
<rect x="889" y="692" width="1" height="27" fill="#c0c0c0"/>
<rect x="897" y="703" width="1" height="16" fill="#c0c0c0"/>
<rect x="905" y="707" width="1" height="12" fill="#c0c0c0"/>
<rect x="913" y="714" width="1" height="5" fill="#c0c0c0"/>
<rect x="921" y="715" width="1" height="4" fill="#c0c0c0"/>
<rect x="937" y="718" width="1" height="4" fill="#c0c0c0"/>
<rect x="945" y="718" width="1" height="13" fill="#c0c0c0"/>
<rect x="953" y="718" width="1" height="22" fill="#c0c0c0"/>
<rect x="961" y="718" width="1" height="23" fill="#c0c0c0"/>
<rect x="969" y="718" width="1" height="26" fill="#c0c0c0"/>
<rect x="977" y="718" width="1" height="27" fill="#c0c0c0"/>
<rect x="985" y="718" width="1" height="27" fill="#c0c0c0"/>
<rect x="993" y="718" width="1" height="27" fill="#c0c0c0"/>
<rect x="1001" y="718" width="1" height="26" fill="#c0c0c0"/>
<rect x="1009" y="718" width="1" height="23" fill="#c0c0c0"/>
<rect x="1017" y="718" width="1" height="19" fill="#c0c0c0"/>
<rect x="1025" y="718" width="1" height="13" fill="#c0c0c0"/>
<rect x="1033" y="718" width="1" height="10" fill="#c0c0c0"/>
<rect x="1049" y="716" width="1" height="3" fill="#c0c0c0"/>
<rect x="1057" y="712" width="1" height="7" fill="#c0c0c0"/>
<rect x="1065" y="712" width="1" height="7" fill="#c0c0c0"/>
<rect x="1073" y="717" width="1" height="2" fill="#c0c0c0"/>
<rect x="1081" y="718" width="1" height="2" fill="#c0c0c0"/>
<rect x="1089" y="718" width="1" height="6" fill="#c0c0c0"/>
<rect x="1097" y="718" width="1" height="7" fill="#c0c0c0"/>
<rect x="1105" y="718" width="1" height="8" fill="#c0c0c0"/>
<rect x="1113" y="718" width="1" height="10" fill="#c0c0c0"/>
<rect x="1121" y="718" width="1" height="15" fill="#c0c0c0"/>
<rect x="1129" y="718" width="1" height="17" fill="#c0c0c0"/>
<rect x="1137" y="718" width="1" height="22" fill="#c0c0c0"/>
<rect x="1145" y="718" width="1" height="23" fill="#c0c0c0"/>
<rect x="1153" y="718" width="1" height="23" fill="#c0c0c0"/>
<rect x="1161" y="718" width="1" height="22" fill="#c0c0c0"/>
<rect x="1169" y="718" width="1" height="22" fill="#c0c0c0"/>
<rect x="1177" y="718" width="1" height="16" fill="#c0c0c0"/>
<rect x="1185" y="718" width="1" height="7" fill="#c0c0c0"/>
<rect x="1193" y="718" width="1" height="4" fill="#c0c0c0"/>
<rect x="1201" y="713" width="1" height="6" fill="#c0c0c0"/>
<rect x="1209" y="707" width="1" height="12" fill="#c0c0c0"/>
<rect x="1217" y="699" width="1" height="20" fill="#c0c0c0"/>
<rect x="1225" y="695" width="1" height="24" fill="#c0c0c0"/>
<rect x="1233" y="694" width="1" height="25" fill="#c0c0c0"/>
<rect x="1241" y="696" width="1" height="23" fill="#c0c0c0"/>
<rect x="1249" y="697" width="1" height="22" fill="#c0c0c0"/>
<rect x="1257" y="700" width="1" height="19" fill="#c0c0c0"/>
<rect x="1265" y="708" width="1" height="11" fill="#c0c0c0"/>
<rect x="1273" y="714" width="1" height="5" fill="#c0c0c0"/>
<rect x="1281" y="717" width="1" height="2" fill="#c0c0c0"/>
<rect x="1289" y="716" width="1" height="3" fill="#c0c0c0"/>
<rect x="1297" y="716" width="1" height="3" fill="#c0c0c0"/>
<rect x="1305" y="717" width="1" height="2" fill="#c0c0c0"/>
<rect x="1313" y="717" width="1" height="2" fill="#c0c0c0"/>
<rect x="1321" y="717" width="1" height="2" fill="#c0c0c0"/>
<rect x="1329" y="717" width="1" height="2" fill="#c0c0c0"/>
<rect x="1337" y="716" width="1" height="3" fill="#c0c0c0"/>
<rect x="1345" y="713" width="1" height="6" fill="#c0c0c0"/>
<rect x="1353" y="711" width="1" height="8" fill="#c0c0c0"/>
<rect x="1361" y="706" width="1" height="13" fill="#c0c0c0"/>
<rect x="1369" y="710" width="1" height="9" fill="#c0c0c0"/>
<rect x="1377" y="713" width="1" height="6" fill="#c0c0c0"/>
<rect x="1385" y="718" width="1" height="4" fill="#c0c0c0"/>
<rect x="1393" y="718" width="1" height="4" fill="#c0c0c0"/>
<rect x="1401" y="718" width="1" height="7" fill="#c0c0c0"/>
<rect x="1409" y="718" width="1" height="5" fill="#c0c0c0"/>
<rect x="1417" y="718" width="1" height="7" fill="#c0c0c0"/>
<rect x="1425" y="718" width="1" height="10" fill="#c0c0c0"/>
<rect x="1433" y="718" width="1" height="21" fill="#c0c0c0"/>
<polyline points="2.7,671.9 9.0,666.8 23.3,659.3 41.2,651.8 57.4,647.1 73.5,642.3 89.7,637.8 105.8,635.1 125.5,632.8 143.4,630.6 161.4,629.4 179.3,629.4 193.7,633.3 206.2,641.4 220.5,653.0 233.1,664.7 251.0,686.2 269.0,702.3 286.9,714.9 305.0,721.2 319.3,723.3 337.2,721.7 353.4,716.3 367.7,710.4 382.1,704.5 398.2,701.4 421.5,701.8 435.9,702.3 450.2,699.7 468.1,692.5 486.1,682.6 504.0,668.3 520.1,652.1 536.3,633.3 552.4,618.1 568.5,605.5 579.3,599.6 596.0,597.4 609.9,599.2 627.9,606.4 645.8,617.2 663.7,628.0 681.7,637.4 699.6,639.6 717.5,636.0 735.4,631.5 753.4,628.5 765.9,628.8 780.3,633.3 798.2,640.5 816.1,649.4 834.1,655.7 852.0,661.1 870.0,666.5 890.7,675.4 905.9,682.6 923.9,695.2 941.8,707.7 959.7,719.4 977.7,728.3 995.6,737.3 1013.5,741.4 1027.9,740.9 1049.4,732.8 1067.3,725.7 1083.4,720.3 1103.2,718.1 1115.7,719.4 1130.1,725.7 1148.0,730.1 1165.9,734.6 1174.9,736.4 1180.0,736.6 1185.7,736.6 1192.3,734.4 1198.0,733.5 1204.6,730.6 1210.3,727.8 1216.9,724.5 1222.6,721.2 1228.2,717.4 1233.9,712.6 1240.5,709.3 1246.2,706.0 1251.9,703.2 1257.6,702.2 1263.3,700.3 1276.5,700.3 1283.1,701.3 1288.8,703.2 1294.5,704.4 1300.2,706.5 1306.8,708.9 1312.5,711.2 1318.1,712.2 1324.7,714.5 1330.4,715.5 1336.5,716.5 1341.7,716.1 1348.2,715.8 1354.7,715.5 1360.6,714.5 1384.0,714.5 1396.4,714.5 1402.2,715.5 1408.1,716.5 1414.6,717.4 1420.4,719.4 1426.3,721.0 1432.1,723.3 1433.0,723.5" fill="none" stroke="#ff0000" stroke-width="1" stroke-dasharray="3,3"/>
<path d="M1344,706 Q1392,717 1427,728.5" fill="none" stroke="#ff0000" stroke-width="3" shape-rendering="auto"/>
<polygon points="1437,731.5 1424,734 1428.5,723.5" fill="#ff0000" shape-rendering="auto"/>
</g>
<line x1="0" y1="791.5" x2="1644" y2="791.5" stroke="#c0c0c0" stroke-width="1" stroke-dasharray="3,3"/>
<line x1="0" y1="842.5" x2="1644" y2="842.5" stroke="#c0c0c0" stroke-width="1" stroke-dasharray="3,3"/>
<line x1="0" y1="903.5" x2="1644" y2="903.5" stroke="#c0c0c0" stroke-width="1" stroke-dasharray="3,3"/>
<g clip-path="url(#crsi)">
<polyline points="1.5,794.2 9.5,812.9 17.5,802.8 25.5,798.6 33.5,803.4 41.5,802.3 49.5,805.2 57.5,797.3 65.5,796.4 73.5,792.2 81.5,800.1 89.5,796.8 97.5,795.5 105.5,803.7 113.5,814.4 121.5,810.2 129.5,798.2 137.5,795.5 145.5,797.3 153.5,799.1 161.5,802.3 169.5,798.6 177.5,831.3 185.5,841.4 193.5,834.6 201.5,846.9 209.5,843.2 217.5,846.9 225.5,854.2 233.5,850.5 241.5,854.2 249.5,849.6 257.5,844.7 265.5,848.7 273.5,853.3 281.5,855.1 289.5,852.4 297.5,841.4 305.5,845.4 313.5,839.5 321.5,831.3 329.5,828.0 337.5,825.8 345.5,820.3 353.5,819.3 361.5,836.8 369.5,839.5 377.5,837.1 385.5,835.3 393.5,835.3 401.5,843.6 409.5,840.5 417.5,830.7 425.5,825.8 433.5,823.0 441.5,814.7 449.5,810.2 457.5,826.7 465.5,811.1 473.5,810.2 481.5,807.4 489.5,797.3 497.5,794.9 505.5,792.4 513.5,785.0 521.5,785.0 529.5,785.0 537.5,792.4 545.5,792.4 553.5,790.5 561.5,785.0 569.5,793.6 577.5,796.8 585.5,802.3 593.5,799.3 601.5,800.6 609.5,805.6 617.5,822.1 625.5,820.3 633.5,811.4 641.5,823.4 649.5,821.2 657.5,815.1 665.5,813.3 673.5,808.0 681.5,804.7 689.5,801.0 697.5,795.5 705.5,796.0 713.5,800.1 721.5,798.2 729.5,796.4 737.5,805.2 745.5,802.3 753.5,814.4 761.5,811.4 769.5,813.3 777.5,823.9 785.5,832.2 793.5,823.9 801.5,820.3 809.5,818.4 817.5,810.2 825.5,812.0 833.5,825.4 841.5,822.5 849.5,833.5 857.5,832.2 865.5,826.7 873.5,837.7 881.5,842.3 889.5,840.5 897.5,861.0 905.5,846.3 913.5,853.3 921.5,843.8 929.5,850.2 937.5,851.5 945.5,862.5 953.5,867.1 961.5,854.6 969.5,856.1 977.5,856.1 985.5,852.4 993.5,852.4 1001.5,852.4 1009.5,848.2 1017.5,841.4 1025.5,833.5 1033.5,839.2 1041.5,827.6 1049.5,832.2 1057.5,829.4 1065.5,840.5 1073.5,851.8 1081.5,855.5 1089.5,850.0 1097.5,846.3 1105.5,847.8 1113.5,856.1 1121.5,857.3 1129.5,856.1 1137.5,866.2 1145.5,855.1 1153.5,851.5 1161.5,852.4 1169.5,852.4 1177.5,836.8 1185.5,827.6 1193.5,835.3 1201.5,821.2 1209.5,824.3 1217.5,816.2 1225.5,827.2 1233.5,829.1 1241.5,839.0 1249.5,835.3 1257.5,843.2 1265.5,855.5 1273.5,853.7 1281.5,848.7 1289.5,840.5 1297.5,840.5 1305.5,848.2 1313.5,842.3 1321.5,849.3 1329.5,835.3 1337.5,838.2 1345.5,835.3 1353.5,829.4 1361.5,829.4 1369.5,846.9 1377.5,856.1 1385.5,852.9 1393.5,846.3 1401.5,851.8 1409.5,848.7 1417.5,845.0 1425.5,859.7 1433.5,862.5" fill="none" stroke="#1e90ff" stroke-width="1" />
<line x1="1329" y1="841" x2="1424.8" y2="863.2" stroke="#ff0000" stroke-width="3" shape-rendering="auto"/>
<polygon points="1435.5,865.7 1423.4,869.1 1426.1,857.4" fill="#ff0000" shape-rendering="auto"/>
</g>
<rect x="0" y="28" width="1645" height="1" fill="#000"/>
<rect x="1644" y="28" width="1" height="902" fill="#000"/>
<rect x="0" y="581" width="1645" height="1" fill="#000"/>
<rect x="0" y="583" width="1645" height="1" fill="#000"/>
<rect x="0" y="753" width="1645" height="1" fill="#000"/>
<rect x="0" y="755" width="1645" height="1" fill="#000"/>
<rect x="0" y="929" width="1645" height="1" fill="#000"/>
<rect x="1645" y="50" width="3" height="1" fill="#000"/>
<text x="1650" y="54" font-size="9.8" fill="#000" text-anchor="start" font-weight="normal" textLength="33" lengthAdjust="spacingAndGlyphs" >114.740</text>
<rect x="1645" y="83" width="3" height="1" fill="#000"/>
<text x="1650" y="87" font-size="9.8" fill="#000" text-anchor="start" font-weight="normal" textLength="33" lengthAdjust="spacingAndGlyphs" >114.465</text>
<rect x="1645" y="116" width="3" height="1" fill="#000"/>
<text x="1650" y="120" font-size="9.8" fill="#000" text-anchor="start" font-weight="normal" textLength="33" lengthAdjust="spacingAndGlyphs" >114.195</text>
<rect x="1645" y="149" width="3" height="1" fill="#000"/>
<text x="1650" y="153" font-size="9.8" fill="#000" text-anchor="start" font-weight="normal" textLength="33" lengthAdjust="spacingAndGlyphs" >113.921</text>
<rect x="1645" y="182" width="3" height="1" fill="#000"/>
<text x="1650" y="186" font-size="9.8" fill="#000" text-anchor="start" font-weight="normal" textLength="33" lengthAdjust="spacingAndGlyphs" >113.650</text>
<rect x="1645" y="247" width="3" height="1" fill="#000"/>
<text x="1650" y="251" font-size="9.8" fill="#000" text-anchor="start" font-weight="normal" textLength="33" lengthAdjust="spacingAndGlyphs" >113.105</text>
<rect x="1645" y="281" width="3" height="1" fill="#000"/>
<text x="1650" y="285" font-size="9.8" fill="#000" text-anchor="start" font-weight="normal" textLength="33" lengthAdjust="spacingAndGlyphs" >112.830</text>
<rect x="1645" y="314" width="3" height="1" fill="#000"/>
<text x="1650" y="318" font-size="9.8" fill="#000" text-anchor="start" font-weight="normal" textLength="33" lengthAdjust="spacingAndGlyphs" >112.560</text>
<rect x="1645" y="347" width="3" height="1" fill="#000"/>
<text x="1650" y="351" font-size="9.8" fill="#000" text-anchor="start" font-weight="normal" textLength="33" lengthAdjust="spacingAndGlyphs" >112.285</text>
<rect x="1645" y="380" width="3" height="1" fill="#000"/>
<text x="1650" y="384" font-size="9.8" fill="#000" text-anchor="start" font-weight="normal" textLength="33" lengthAdjust="spacingAndGlyphs" >112.015</text>
<rect x="1645" y="413" width="3" height="1" fill="#000"/>
<text x="1650" y="417" font-size="9.8" fill="#000" text-anchor="start" font-weight="normal" textLength="33" lengthAdjust="spacingAndGlyphs" >111.740</text>
<rect x="1645" y="446" width="3" height="1" fill="#000"/>
<text x="1650" y="450" font-size="9.8" fill="#000" text-anchor="start" font-weight="normal" textLength="33" lengthAdjust="spacingAndGlyphs" >111.470</text>
<rect x="1645" y="479" width="3" height="1" fill="#000"/>
<text x="1650" y="483" font-size="9.8" fill="#000" text-anchor="start" font-weight="normal" textLength="33" lengthAdjust="spacingAndGlyphs" >111.195</text>
<rect x="1645" y="512" width="3" height="1" fill="#000"/>
<text x="1650" y="516" font-size="9.8" fill="#000" text-anchor="start" font-weight="normal" textLength="33" lengthAdjust="spacingAndGlyphs" >110.925</text>
<rect x="1645" y="545" width="3" height="1" fill="#000"/>
<text x="1650" y="549" font-size="9.8" fill="#000" text-anchor="start" font-weight="normal" textLength="33" lengthAdjust="spacingAndGlyphs" >110.650</text>
<rect x="1645" y="578" width="3" height="1" fill="#000"/>
<text x="1650" y="582" font-size="9.8" fill="#000" text-anchor="start" font-weight="normal" textLength="33" lengthAdjust="spacingAndGlyphs" >110.380</text>
<rect x="1646" y="143" width="41" height="11" fill="#ff0000"/>
<text x="1650.5" y="152" font-size="9.8" fill="#fff" text-anchor="start" font-weight="normal" textLength="32" lengthAdjust="spacingAndGlyphs" >113.921</text>
<rect x="1639.5" y="147.5" width="4" height="4" fill="#fff" stroke="#ff0000"/>
<rect x="1646" y="169" width="41" height="11" fill="#ff0000"/>
<text x="1650.5" y="178" font-size="9.8" fill="#fff" text-anchor="start" font-weight="normal" textLength="32" lengthAdjust="spacingAndGlyphs" >113.707</text>
<rect x="1639.5" y="173.5" width="4" height="4" fill="#fff" stroke="#ff0000"/>
<rect x="1646" y="193" width="41" height="11" fill="#32cd32"/>
<text x="1650.5" y="202" font-size="9.8" fill="#fff" text-anchor="start" font-weight="normal" textLength="32" lengthAdjust="spacingAndGlyphs" >113.509</text>
<rect x="1639.5" y="197.5" width="4" height="4" fill="#fff" stroke="#32cd32"/>
<rect x="1646" y="209" width="41" height="11" fill="#000000"/>
<text x="1650.5" y="218" font-size="9.8" fill="#fff" text-anchor="start" font-weight="normal" textLength="32" lengthAdjust="spacingAndGlyphs" >113.388</text>
<rect x="1646" y="233" width="41" height="11" fill="#0000ff"/>
<text x="1650.5" y="242" font-size="9.8" fill="#fff" text-anchor="start" font-weight="normal" textLength="32" lengthAdjust="spacingAndGlyphs" >113.179</text>
<rect x="1639.5" y="237.5" width="4" height="4" fill="#fff" stroke="#0000ff"/>
<rect x="1646" y="255" width="41" height="11" fill="#0000ff"/>
<text x="1650.5" y="264" font-size="9.8" fill="#fff" text-anchor="start" font-weight="normal" textLength="32" lengthAdjust="spacingAndGlyphs" >112.998</text>
<rect x="1639.5" y="259.5" width="4" height="4" fill="#fff" stroke="#0000ff"/>
<rect x="1645" y="585" width="2" height="1" fill="#000"/>
<text x="1648" y="593.5" font-size="9.8" fill="#000" text-anchor="start" font-weight="normal" textLength="18" lengthAdjust="spacingAndGlyphs" >0.58</text>
<rect x="1645" y="718" width="2" height="1" fill="#000"/>
<text x="1648" y="722" font-size="9.8" fill="#000" text-anchor="start" font-weight="normal" textLength="18" lengthAdjust="spacingAndGlyphs" >0.00</text>
<text x="1648" y="750" font-size="9.8" fill="#000" text-anchor="start" font-weight="normal" textLength="30" lengthAdjust="spacingAndGlyphs" >-0.1522</text>
<rect x="1645" y="753" width="2" height="1" fill="#000"/>
<rect x="1645" y="757" width="2" height="1" fill="#000"/>
<text x="1648" y="766" font-size="9.8" fill="#000" text-anchor="start" font-weight="normal" textLength="15" lengthAdjust="spacingAndGlyphs" >100</text>
<rect x="1645" y="791" width="2" height="1" fill="#000"/>
<text x="1648" y="795" font-size="9.8" fill="#000" text-anchor="start" font-weight="normal" textLength="10" lengthAdjust="spacingAndGlyphs" >80</text>
<rect x="1645" y="842" width="2" height="1" fill="#000"/>
<text x="1648" y="846" font-size="9.8" fill="#000" text-anchor="start" font-weight="normal" textLength="10" lengthAdjust="spacingAndGlyphs" >50</text>
<rect x="1645" y="903" width="2" height="1" fill="#000"/>
<text x="1648" y="907" font-size="9.8" fill="#000" text-anchor="start" font-weight="normal" textLength="10" lengthAdjust="spacingAndGlyphs" >15</text>
<text x="1648" y="926" font-size="9.8" fill="#000" text-anchor="start" font-weight="normal" textLength="5" lengthAdjust="spacingAndGlyphs" >0</text>
<text x="0.5" y="40" font-size="9.8" fill="#000" text-anchor="start" font-weight="normal" textLength="200" lengthAdjust="spacingAndGlyphs" >USDJPY-,H4  113.447 113.506 113.293 113.388</text>
<text x="-8" y="596" font-size="9.8" fill="#000" text-anchor="start" font-weight="normal" textLength="131" lengthAdjust="spacingAndGlyphs" >MACD(12,26,9) -0.0907 -0.0280</text>
<text x="-12" y="768" font-size="9.8" fill="#000" text-anchor="start" font-weight="normal" textLength="69" lengthAdjust="spacingAndGlyphs" >RSI(14) 38.2823</text>
<rect x="-15" y="930" width="1" height="4" fill="#000"/>
<text x="-16" y="942" font-size="9.8" fill="#000" text-anchor="start" font-weight="normal" textLength="52.3" lengthAdjust="spacingAndGlyphs" >24 Sep 2021</text>
<rect x="49" y="930" width="1" height="4" fill="#000"/>
<text x="48" y="942" font-size="9.8" fill="#000" text-anchor="start" font-weight="normal" textLength="55.7" lengthAdjust="spacingAndGlyphs" >27 Sep 20:00</text>
<rect x="113" y="930" width="1" height="4" fill="#000"/>
<text x="112" y="942" font-size="9.8" fill="#000" text-anchor="start" font-weight="normal" textLength="55.7" lengthAdjust="spacingAndGlyphs" >29 Sep 04:00</text>
<rect x="177" y="930" width="1" height="4" fill="#000"/>
<text x="176" y="942" font-size="9.8" fill="#000" text-anchor="start" font-weight="normal" textLength="55.7" lengthAdjust="spacingAndGlyphs" >30 Sep 12:00</text>
<rect x="241" y="930" width="1" height="4" fill="#000"/>
<text x="240" y="942" font-size="9.8" fill="#000" text-anchor="start" font-weight="normal" textLength="48.9" lengthAdjust="spacingAndGlyphs" >3 Oct 23:00</text>
<rect x="305" y="930" width="1" height="4" fill="#000"/>
<text x="304" y="942" font-size="9.8" fill="#000" text-anchor="start" font-weight="normal" textLength="48.9" lengthAdjust="spacingAndGlyphs" >5 Oct 04:00</text>
<rect x="369" y="930" width="1" height="4" fill="#000"/>
<text x="368" y="942" font-size="9.8" fill="#000" text-anchor="start" font-weight="normal" textLength="48.9" lengthAdjust="spacingAndGlyphs" >6 Oct 12:00</text>
<rect x="433" y="930" width="1" height="4" fill="#000"/>
<text x="432" y="942" font-size="9.8" fill="#000" text-anchor="start" font-weight="normal" textLength="48.9" lengthAdjust="spacingAndGlyphs" >7 Oct 20:00</text>
<rect x="497" y="930" width="1" height="4" fill="#000"/>
<text x="496" y="942" font-size="9.8" fill="#000" text-anchor="start" font-weight="normal" textLength="54.1" lengthAdjust="spacingAndGlyphs" >11 Oct 04:00</text>
<rect x="561" y="930" width="1" height="4" fill="#000"/>
<text x="560" y="942" font-size="9.8" fill="#000" text-anchor="start" font-weight="normal" textLength="54.1" lengthAdjust="spacingAndGlyphs" >12 Oct 12:00</text>
<rect x="625" y="930" width="1" height="4" fill="#000"/>
<text x="624" y="942" font-size="9.8" fill="#000" text-anchor="start" font-weight="normal" textLength="54.1" lengthAdjust="spacingAndGlyphs" >13 Oct 20:00</text>
<rect x="689" y="930" width="1" height="4" fill="#000"/>
<text x="688" y="942" font-size="9.8" fill="#000" text-anchor="start" font-weight="normal" textLength="54.1" lengthAdjust="spacingAndGlyphs" >15 Oct 04:00</text>
<rect x="753" y="930" width="1" height="4" fill="#000"/>
<text x="752" y="942" font-size="9.8" fill="#000" text-anchor="start" font-weight="normal" textLength="54.1" lengthAdjust="spacingAndGlyphs" >18 Oct 12:00</text>
<rect x="817" y="930" width="1" height="4" fill="#000"/>
<text x="816" y="942" font-size="9.8" fill="#000" text-anchor="start" font-weight="normal" textLength="54.1" lengthAdjust="spacingAndGlyphs" >19 Oct 20:00</text>
<rect x="881" y="930" width="1" height="4" fill="#000"/>
<text x="880" y="942" font-size="9.8" fill="#000" text-anchor="start" font-weight="normal" textLength="54.1" lengthAdjust="spacingAndGlyphs" >21 Oct 04:00</text>
<rect x="945" y="930" width="1" height="4" fill="#000"/>
<text x="944" y="942" font-size="9.8" fill="#000" text-anchor="start" font-weight="normal" textLength="54.1" lengthAdjust="spacingAndGlyphs" >22 Oct 12:00</text>
<rect x="1009" y="930" width="1" height="4" fill="#000"/>
<text x="1008" y="942" font-size="9.8" fill="#000" text-anchor="start" font-weight="normal" textLength="54.1" lengthAdjust="spacingAndGlyphs" >25 Oct 20:00</text>
<rect x="1073" y="930" width="1" height="4" fill="#000"/>
<text x="1072" y="942" font-size="9.8" fill="#000" text-anchor="start" font-weight="normal" textLength="54.1" lengthAdjust="spacingAndGlyphs" >27 Oct 04:00</text>
<rect x="1137" y="930" width="1" height="4" fill="#000"/>
<text x="1136" y="942" font-size="9.8" fill="#000" text-anchor="start" font-weight="normal" textLength="54.1" lengthAdjust="spacingAndGlyphs" >28 Oct 12:00</text>
<rect x="1201" y="930" width="1" height="4" fill="#000"/>
<text x="1200" y="942" font-size="9.8" fill="#000" text-anchor="start" font-weight="normal" textLength="54.1" lengthAdjust="spacingAndGlyphs" >31 Oct 23:00</text>
<rect x="1265" y="930" width="1" height="4" fill="#000"/>
<text x="1264" y="942" font-size="9.8" fill="#000" text-anchor="start" font-weight="normal" textLength="51.1" lengthAdjust="spacingAndGlyphs" >2 Nov 04:00</text>
<rect x="1329" y="930" width="1" height="4" fill="#000"/>
<text x="1328" y="942" font-size="9.8" fill="#000" text-anchor="start" font-weight="normal" textLength="51.1" lengthAdjust="spacingAndGlyphs" >3 Nov 12:00</text>
<rect x="1393" y="930" width="1" height="4" fill="#000"/>
<text x="1392" y="942" font-size="9.8" fill="#000" text-anchor="start" font-weight="normal" textLength="51.1" lengthAdjust="spacingAndGlyphs" >4 Nov 20:00</text>
<rect x="1065" y="1" width="25" height="22" fill="#f8f8f8"/><rect x="1065" y="1" width="25" height="1" fill="#d0d0d0"/><rect x="1065" y="1" width="1" height="22" fill="#d0d0d0"/><g shape-rendering="auto"><path d="M0,17 L2,18.5 L0,20" stroke="#303030" fill="none"/><rect x="5" y="3" width="1" height="19" fill="#c4c4c4"/><rect x="6" y="3" width="1" height="19" fill="#ffffff"/><path d="M15.5,5.5 H23 L26,8.5 V19.5 H15.5 Z" fill="#fff" stroke="#606060"/><path d="M17,10 H24 M17,12.5 H21" stroke="#909090"/><path d="M22,12 H26 V15 H29 V19 H26 V22 H22 V19 H19 V15 H22 Z" fill="#22cc22" stroke="#108010" stroke-width="0.8"/><g transform="translate(34,6.5) scale(0.93)" stroke="#202020" stroke-width="1.15" fill="none"><path d="M2,1 V2 M0,3 H5 M1,4 L2,6 M4,4 L3,6 M0,7 H5 M2.5,7 V12 M0.5,11 L2.5,9 M4.5,11 L2.5,9 M11,1 L7,2.5 V12 M7,6 H11.5 M9.5,6 V12"/></g><g transform="translate(46,6.5) scale(0.93)" stroke="#202020" stroke-width="1.15" fill="none"><path d="M1,1 L2,2.5 M0,5 H2 V11 L3.5,9.5 M5,2 H11.5 M8.5,2 V11.5 L7,10.5"/></g><g transform="translate(58,6.5) scale(0.93)" stroke="#202020" stroke-width="1.15" fill="none"><path d="M3,0.5 L4,2 M9,0.5 L8,2 M1.5,2.5 H10.5 V8 H1.5 Z M1.5,5.2 H10.5 M6,2.5 V12 M0,9.8 H12"/></g><path d="M83,10 L89,5 L97,12 L91,18 Z" fill="#e8b830" stroke="#a07010"/><path d="M83,10 L83,13 L91,20 L91,18" fill="#c89020" stroke="#a07010"/><rect x="111" y="4" width="9" height="10" fill="#3a8ee0" stroke="#2060b0"/><rect x="113" y="6" width="5" height="3" fill="#fff"/><ellipse cx="117" cy="16" rx="7" ry="3.5" fill="#e8eef8" stroke="#8090b0"/><circle cx="146" cy="12" r="7" fill="none" stroke="#a0c0e0" stroke-width="1.2"/><circle cx="146" cy="12" r="4.5" fill="none" stroke="#7090c0" stroke-width="1.2"/><circle cx="146" cy="12" r="1.8" fill="#2050a0"/><path d="M147,13 L147,19" stroke="#30a030" stroke-width="1.5"/><ellipse cx="174" cy="8" rx="7" ry="3.5" fill="#60a8d8" stroke="#3070a0"/><path d="M168,10 L174,18 L180,10 Z" fill="#f0c040" stroke="#b08020"/><circle cx="177.5" cy="16" r="3.5" fill="#e02020"/><rect x="176" y="14.5" width="3" height="3" fill="#fff"/><g transform="translate(187,6.5) scale(0.93)" stroke="#202020" stroke-width="1.15" fill="none"><path d="M6,0.5 L5,2 M1.5,2.5 H10.5 V12 H1.5 Z M1.5,5.5 H10.5 M1.5,8.7 H10.5"/></g><g transform="translate(199,6.5) scale(0.93)" stroke="#202020" stroke-width="1.15" fill="none"><path d="M0.5,2 H5 M0,5 H5.5 M2.5,5 L1,10 L5,9 M4,8 L5.5,10 M6,4 H11 V11.5 L9.5,10.5 M8.5,1 V5 L6.5,11.5"/></g><g transform="translate(211,6.5) scale(0.93)" stroke="#202020" stroke-width="1.15" fill="none"><path d="M6,0.5 V2 M0,2.5 H12 M3.5,4 L1,6.5 M8.5,4 L11,6.5 M3,7 L10,12 M9,7 L2,12"/></g><g transform="translate(223,6.5) scale(0.93)" stroke="#202020" stroke-width="1.15" fill="none"><path d="M2,0.5 H10 V5 H2 Z M2,2.7 H10 M3,5 L0.5,8 M2.5,6.5 H11 V11.5 L9.5,10.5 M6,6.5 L3,11.5 M8.5,6.5 L5.5,11.5"/></g><rect x="242" y="3" width="1" height="19" fill="#c4c4c4"/><rect x="243" y="3" width="1" height="19" fill="#ffffff"/><rect x="245" y="4" width="4" height="1" fill="#b8b8b8"/><rect x="245" y="6" width="4" height="1" fill="#b8b8b8"/><rect x="245" y="8" width="4" height="1" fill="#b8b8b8"/><rect x="245" y="10" width="4" height="1" fill="#b8b8b8"/><rect x="245" y="12" width="4" height="1" fill="#b8b8b8"/><rect x="245" y="14" width="4" height="1" fill="#b8b8b8"/><rect x="245" y="16" width="4" height="1" fill="#b8b8b8"/><rect x="245" y="18" width="4" height="1" fill="#b8b8b8"/><rect x="245" y="20" width="4" height="1" fill="#b8b8b8"/><path d="M258.5,5 V20 M256,18.5 H271" stroke="#505050" stroke-width="1.2" fill="none"/><path d="M257,7 L258.5,5 L260,7 M269,17 L271,18.5 L269,20" stroke="#505050" stroke-width="1" fill="none"/><path d="M264,8 V16 M264,9 H267 M264,15 H261" stroke="#20a020" stroke-width="1.4" fill="none"/><rect x="279" y="1" width="25" height="22" fill="#f8f8f8"/><rect x="279" y="1" width="25" height="1" fill="#d0d0d0"/><rect x="279" y="1" width="1" height="22" fill="#d0d0d0"/><path d="M286.5,5 V20 M284,18.5 H299" stroke="#505050" stroke-width="1.2" fill="none"/><path d="M285,7 L286.5,5 L288,7 M297,17 L299,18.5 L297,20" stroke="#505050" stroke-width="1" fill="none"/><path d="M292,5 V18" stroke="#108010" stroke-width="1"/><rect x="290" y="8" width="4" height="7" fill="#30d030" stroke="#108010"/><path d="M314.5,5 V20 M312,18.5 H327" stroke="#505050" stroke-width="1.2" fill="none"/><path d="M313,7 L314.5,5 L316,7 M325,17 L327,18.5 L325,20" stroke="#505050" stroke-width="1" fill="none"/><path d="M315,16 L320,11 Q322,9 324,11 L327,14" stroke="#20a020" stroke-width="1.3" fill="none"/><rect x="336" y="3" width="1" height="19" fill="#c4c4c4"/><rect x="337" y="3" width="1" height="19" fill="#ffffff"/><line x1="355" y1="16" x2="360" y2="21" stroke="#c8a820" stroke-width="3"/><circle cx="351" cy="11" r="6" fill="#d8ecfc" stroke="#3a7cd0" stroke-width="1.5"/><path d="M348,11 H354 M351,8 V14" stroke="#2a6ac0" stroke-width="1.8"/><line x1="383" y1="16" x2="388" y2="21" stroke="#c8a820" stroke-width="3"/><circle cx="379" cy="11" r="6" fill="#d8ecfc" stroke="#3a7cd0" stroke-width="1.5"/><path d="M376,11 H382" stroke="#2a6ac0" stroke-width="1.8"/><rect x="401" y="4" width="8" height="8" fill="#40a840"/><rect x="409" y="4" width="8" height="8" fill="#2a60d0"/><rect x="401" y="12" width="8" height="8" fill="#2a60d0"/><rect x="409" y="12" width="8" height="8" fill="#40a840"/><path d="M402.5,8 H407.5 M410.5,8 H415.5 M402.5,16 H407.5 M410.5,16 H415.5" stroke="#fff" stroke-width="1.5"/><rect x="426" y="3" width="1" height="19" fill="#c4c4c4"/><rect x="427" y="3" width="1" height="19" fill="#ffffff"/><rect x="431" y="1" width="25" height="22" fill="#f8f8f8"/><rect x="431" y="1" width="25" height="1" fill="#d0d0d0"/><rect x="431" y="1" width="1" height="22" fill="#d0d0d0"/><path d="M438.5,5 V20 M436,18.5 H451" stroke="#505050" stroke-width="1.2" fill="none"/><path d="M437,7 L438.5,5 L440,7 M449,17 L451,18.5 L449,20" stroke="#505050" stroke-width="1" fill="none"/><polygon points="445,8 450,11.5 445,15" fill="#20c020" stroke="#108010" stroke-width="0.6"/><rect x="459" y="1" width="25" height="22" fill="#f8f8f8"/><rect x="459" y="1" width="25" height="1" fill="#d0d0d0"/><rect x="459" y="1" width="1" height="22" fill="#d0d0d0"/><path d="M466.5,5 V20 M464,18.5 H479" stroke="#505050" stroke-width="1.2" fill="none"/><path d="M465,7 L466.5,5 L468,7 M477,17 L479,18.5 L477,20" stroke="#505050" stroke-width="1" fill="none"/><path d="M472,6 V16" stroke="#2060c0" stroke-width="1.3"/><path d="M479,11 H474 M476,9 L474,11 L476,13" stroke="#e05010" stroke-width="1.3" fill="none"/><rect x="488" y="3" width="1" height="19" fill="#c4c4c4"/><rect x="489" y="3" width="1" height="19" fill="#ffffff"/><path d="M498.5,4.5 H505 L507,6.5 V17.5 H498.5 Z" fill="#fff" stroke="#707070"/><path d="M504,11 H508 V14 H511 V18 H508 V21 H504 V18 H501 V14 H504 Z" fill="#22cc22" stroke="#108010" stroke-width="0.8"/><polygon points="520,11 525,11 522.5,14" fill="#000"/><circle cx="544" cy="12" r="7.5" fill="#2a70d0" stroke="#1a50a0"/><circle cx="544" cy="12" r="5.5" fill="#fff"/><path d="M544,8.5 V12 H547" stroke="#303030" stroke-width="1" fill="none"/><polygon points="558,11 563,11 560.5,14" fill="#000"/><rect x="575.5" y="5.5" width="16" height="13" fill="#fff" stroke="#2a60c0"/><rect x="576" y="6" width="15" height="2" fill="#4a80d8"/><path d="M577,12 L581,11 L585,11.5 L590,10 M577,16 L581,14.5 L585,16 L590,14" stroke="#c03030" stroke-width="1" fill="none"/><path d="M576,13.5 H591" stroke="#2a60c0" stroke-width="0.8"/><polygon points="597,11 602,11 599.5,14" fill="#000"/><rect x="609" y="3" width="1" height="19" fill="#c4c4c4"/><rect x="610" y="3" width="1" height="19" fill="#ffffff"/><rect x="613" y="4" width="4" height="1" fill="#b8b8b8"/><rect x="613" y="6" width="4" height="1" fill="#b8b8b8"/><rect x="613" y="8" width="4" height="1" fill="#b8b8b8"/><rect x="613" y="10" width="4" height="1" fill="#b8b8b8"/><rect x="613" y="12" width="4" height="1" fill="#b8b8b8"/><rect x="613" y="14" width="4" height="1" fill="#b8b8b8"/><rect x="613" y="16" width="4" height="1" fill="#b8b8b8"/><rect x="613" y="18" width="4" height="1" fill="#b8b8b8"/><rect x="613" y="20" width="4" height="1" fill="#b8b8b8"/><rect x="619" y="1" width="25" height="22" fill="#f8f8f8"/><rect x="619" y="1" width="25" height="1" fill="#d0d0d0"/><rect x="619" y="1" width="1" height="22" fill="#d0d0d0"/><path d="M627,5 L627,17 L630,14 L633,19 L635,18 L632,13 L636,13 Z" fill="#404040"/><path d="M659.5,5 V18 M653,11.5 H666" stroke="#505050" stroke-width="1"/><rect x="676" y="3" width="1" height="19" fill="#c4c4c4"/><rect x="677" y="3" width="1" height="19" fill="#ffffff"/><path d="M693.5,7 V17" stroke="#505050" stroke-width="1.2"/><path d="M716,12.5 H728" stroke="#505050" stroke-width="1.2"/><path d="M744,18 L757,7" stroke="#505050" stroke-width="1.2"/><path d="M770,14 L783,5 M770,18 L783,9 M773,9 L775,17 M777,7 L779,15" stroke="#505050" stroke-width="1.1" fill="none"/><text x="782" y="20" font-size="7" font-weight="bold" fill="#404040">E</text><path d="M798,6 H812 M798,10 H812 M798,14 H812" stroke="#707070" stroke-width="1" stroke-dasharray="1,1" fill="none"/><text x="809" y="20" font-size="7" font-weight="bold" fill="#404040">F</text><text x="828" y="18" font-size="12" font-weight="bold" fill="#505050">A</text><rect x="855.5" y="5.5" width="13" height="13" fill="none" stroke="#606060" stroke-dasharray="1,1"/><text x="857" y="17" font-size="12" font-weight="bold" fill="#505050">T</text><path d="M884,8 L888,5 L891,8 L888,11 Z M891,14 L895,11 L898,14 L895,17 Z M887,11 L892,16" fill="#404040" stroke="#404040" stroke-width="0.8"/><polygon points="903,11 908,11 905.5,14" fill="#000"/><rect x="915" y="3" width="1" height="19" fill="#c4c4c4"/><rect x="916" y="3" width="1" height="19" fill="#ffffff"/><rect x="919" y="4" width="4" height="1" fill="#b8b8b8"/><rect x="919" y="6" width="4" height="1" fill="#b8b8b8"/><rect x="919" y="8" width="4" height="1" fill="#b8b8b8"/><rect x="919" y="10" width="4" height="1" fill="#b8b8b8"/><rect x="919" y="12" width="4" height="1" fill="#b8b8b8"/><rect x="919" y="14" width="4" height="1" fill="#b8b8b8"/><rect x="919" y="16" width="4" height="1" fill="#b8b8b8"/><rect x="919" y="18" width="4" height="1" fill="#b8b8b8"/><rect x="919" y="20" width="4" height="1" fill="#b8b8b8"/><text x="930.5" y="16" font-size="10" fill="#404040" textLength="13" lengthAdjust="spacingAndGlyphs">M1</text><text x="958.5" y="16" font-size="10" fill="#404040" textLength="13" lengthAdjust="spacingAndGlyphs">M5</text><text x="984" y="16" font-size="10" fill="#404040" textLength="18.5" lengthAdjust="spacingAndGlyphs">M15</text><text x="1012.5" y="16" font-size="10" fill="#404040" textLength="18" lengthAdjust="spacingAndGlyphs">M30</text><text x="1043" y="16" font-size="10" fill="#404040" textLength="12.5" lengthAdjust="spacingAndGlyphs">H1</text><text x="1070" y="16" font-size="10" fill="#404040" textLength="12.5" lengthAdjust="spacingAndGlyphs">H4</text><text x="1099" y="16" font-size="10" fill="#404040" textLength="12" lengthAdjust="spacingAndGlyphs">D1</text><text x="1127" y="16" font-size="10" fill="#404040" textLength="14" lengthAdjust="spacingAndGlyphs">W1</text><text x="1153" y="16" font-size="10" fill="#404040" textLength="15" lengthAdjust="spacingAndGlyphs">MN</text></g><rect x="1176" y="3" width="1" height="19" fill="#c4c4c4"/><rect x="1177" y="3" width="1" height="19" fill="#ffffff"/><g shape-rendering="auto"><circle cx="1646.5" cy="9.5" r="3.8" fill="#f4f4ff" stroke="#2a60d0" stroke-width="1.6"/><line x1="1643.5" y1="12.5" x2="1639.5" y2="16.5" stroke="#2a60d0" stroke-width="2.2"/><ellipse cx="1669" cy="14" rx="6" ry="4.5" fill="#e4e4ec" stroke="#a0a0a0"/><path d="M1665,17 L1666,21 L1669,18" fill="#a0a0a0"/><circle cx="1677.5" cy="9.5" r="8" fill="#e02a10"/><text x="1677.5" y="14" font-size="11" font-weight="bold" fill="#fff" text-anchor="middle">1</text></g>
<g shape-rendering="auto">
<path d="M-1.5,48.5 H39.5 V71.5 H96.5 V104.5 H-1.5 Z" fill="url(#gred2)" stroke="#a00000"/>
<rect x="0" y="49" width="39" height="22" fill="url(#gred)"/>
<rect x="0" y="71" width="36" height="1" fill="#8a0000"/><rect x="0" y="72" width="36" height="1" fill="#ff7070"/>
<path d="M155.5,48.5 H206.5 V104.5 H99.5 V71.5 H155.5 Z" fill="url(#gred2)" stroke="#a00000"/>
<rect x="156" y="49" width="50" height="22" fill="url(#gred)"/>
<rect x="159" y="71" width="44" height="1" fill="#8a0000"/><rect x="159" y="72" width="44" height="1" fill="#ff7070"/>
<rect x="42.5" y="48.5" width="110" height="21" fill="#fff" stroke="#a8acb4"/>
<rect x="43.5" y="49.5" width="19" height="19" fill="url(#gbtn)" stroke="#c8c8c8"/>
<rect x="131.5" y="49.5" width="20" height="19" fill="url(#gbtn)" stroke="#c8c8c8"/>
<line x1="63.5" y1="49" x2="63.5" y2="69" stroke="#a8acb4"/><line x1="131.5" y1="49" x2="131.5" y2="69" stroke="#a8acb4"/>
<polygon points="50,57 55,57 52.5,60" fill="#4a64c8"/>
<polygon points="139,60 144,60 141.5,57" fill="#4a64c8"/>
</g>
<text x="127.5" y="63" font-size="12" fill="#000" text-anchor="end" textLength="23" lengthAdjust="spacingAndGlyphs">1.00</text>
<text x="0" y="64" font-size="12" fill="#fff" textLength="26" lengthAdjust="spacingAndGlyphs">SELL</text>
<text x="169" y="64" font-size="12" fill="#fff" textLength="23" lengthAdjust="spacingAndGlyphs">BUY</text>
<text x="11.5" y="100" font-size="12.5" font-weight="bold" fill="#fff" textLength="20" lengthAdjust="spacingAndGlyphs">113</text>
<text x="36.5" y="100" font-size="33.5" fill="#fff" textLength="33" lengthAdjust="spacingAndGlyphs">38</text>
<text x="75" y="84" font-size="12.5" font-weight="bold" fill="#fff">8</text>
<text x="121.3" y="100" font-size="12.5" font-weight="bold" fill="#fff" textLength="20" lengthAdjust="spacingAndGlyphs">113</text>
<text x="145.5" y="100" font-size="33.5" fill="#fff" textLength="35" lengthAdjust="spacingAndGlyphs">40</text>
<text x="186" y="84" font-size="12.5" font-weight="bold" fill="#fff">6</text>
</svg>
</body></html>
